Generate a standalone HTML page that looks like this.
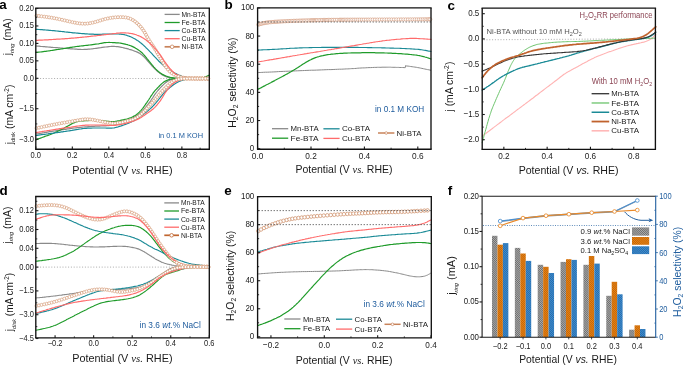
<!DOCTYPE html>
<html><head><meta charset="utf-8"><style>
html,body{margin:0;padding:0;background:#fff;}
svg{display:block;will-change:transform;filter:blur(0.25px);}
</style></head><body>
<svg width="685" height="366" viewBox="0 0 685 366">
<defs><pattern id="hg" patternUnits="userSpaceOnUse" width="1.5" height="1.5" patternTransform="rotate(-45)"><rect width="1.5" height="1.5" fill="#adadad"/><rect width="0.65" height="1.5" fill="#626262"/></pattern>
<pattern id="ho" patternUnits="userSpaceOnUse" width="1.5" height="1.5" patternTransform="rotate(-45)"><rect width="1.5" height="1.5" fill="#e98518"/><rect width="0.6" height="1.5" fill="#b85c00"/></pattern>
<pattern id="hb" patternUnits="userSpaceOnUse" width="1.5" height="1.5" patternTransform="rotate(-45)"><rect width="1.5" height="1.5" fill="#3f8fd2"/><rect width="0.6" height="1.5" fill="#22629f"/></pattern></defs>
<rect width="685" height="366" fill="#fff"/>
<text x="-0.7" y="9.4" font-size="13.4" text-anchor="start" fill="#000" font-family='"Liberation Sans", sans-serif' font-weight="bold">a</text>
<line x1="37.3" y1="78.5" x2="209.3" y2="78.5" stroke="#aaa" stroke-width="1" stroke-dasharray="1 1.8"/>
<path d="M36.0,46.0 37.4,46.1 39.0,46.2 40.6,46.4 42.0,46.5 43.4,46.6 44.7,46.7 45.8,46.8 46.9,46.9 48.0,47.0 49.1,47.1 50.2,47.2 51.3,47.3 52.4,47.4 53.6,47.5 54.8,47.5 56.0,47.6 57.2,47.7 58.3,47.8 59.4,47.9 60.4,48.0 61.5,48.1 62.6,48.2 63.7,48.3 64.8,48.4 65.9,48.5 67.0,48.5 68.2,48.6 69.4,48.7 70.8,48.8 72.3,48.9 73.8,49.0 75.2,49.1 76.6,49.2 77.9,49.3 79.1,49.4 80.4,49.4 81.7,49.5 83.0,49.5 84.3,49.4 85.6,49.4 87.0,49.3 88.3,49.2 89.6,49.1 90.8,49.0 92.1,48.8 93.3,48.7 94.6,48.5 96.0,48.3 97.5,48.1 99.0,47.9 100.7,47.7 102.4,47.4 104.1,47.2 105.7,47.0 107.3,46.8 108.8,46.6 110.2,46.5 111.6,46.4 112.8,46.4 114.1,46.4 115.3,46.5 116.6,46.6 117.8,46.7 119.1,46.9 120.3,47.1 121.4,47.3 122.6,47.5 123.7,47.8 124.8,48.1 125.9,48.3 127.0,48.6 128.1,48.9 129.2,49.3 130.3,49.6 131.4,49.9 132.5,50.3 133.6,50.7 134.6,51.1 135.7,51.5 136.7,51.9 137.8,52.4 138.8,52.9 139.9,53.5 140.9,54.2 141.9,54.9 142.8,55.7 143.7,56.5 144.5,57.3 145.2,58.1 145.9,58.9 146.6,59.7 147.3,60.5 148.0,61.3 148.7,62.1 149.4,62.9 150.1,63.6 150.7,64.4 151.4,65.2 152.1,66.0 152.9,66.8 153.7,67.6 154.5,68.5 155.4,69.4 156.4,70.3 157.4,71.2 158.4,72.1 159.4,72.9 160.4,73.6 161.4,74.3 162.4,75.0 163.4,75.5 164.5,76.0 165.5,76.5 166.6,76.9 167.7,77.2 168.9,77.5 170.1,77.7 171.3,77.9 172.5,78.1 173.8,78.2 175.1,78.3 176.5,78.4 177.9,78.4 179.4,78.5 180.9,78.5 182.3,78.5 183.8,78.5 185.3,78.6 186.8,78.6 188.4,78.6 190.1,78.6 191.7,78.6 193.4,78.6 195.2,78.6 196.9,78.5 198.5,78.5 200.1,78.5 201.7,78.5 203.2,78.5 204.6,78.5 206.0,78.5 207.2,78.5 208.4,78.5 209.0,78.5" fill="none" stroke="#8a8a8a" stroke-width="1.2" stroke-linejoin="round" stroke-linecap="round" />
<path d="M36.0,134.0 37.1,133.8 38.6,133.6 40.2,133.3 41.6,133.1 42.9,132.8 44.2,132.6 45.3,132.4 46.4,132.3 47.5,132.1 48.6,131.9 49.6,131.7 50.7,131.6 51.9,131.4 53.1,131.2 54.4,131.0 55.7,130.8 56.9,130.6 58.1,130.4 59.2,130.2 60.3,130.1 61.3,129.9 62.4,129.7 63.4,129.6 64.5,129.4 65.5,129.3 66.6,129.1 67.6,128.9 68.7,128.8 70.0,128.6 71.3,128.4 72.8,128.2 74.4,128.0 76.0,127.8 77.6,127.6 79.2,127.5 80.7,127.3 82.2,127.1 83.7,127.0 85.2,126.9 86.8,126.8 88.4,126.6 90.0,126.5 91.5,126.4 92.9,126.3 94.2,126.3 95.4,126.2 96.5,126.2 97.6,126.1 98.7,126.1 99.8,126.1 100.9,126.0 102.0,126.0 103.1,125.9 104.4,125.9 105.7,125.8 107.1,125.7 108.6,125.6 110.1,125.4 111.5,125.3 112.8,125.1 114.1,124.9 115.3,124.7 116.6,124.4 117.8,124.1 119.0,123.7 120.2,123.4 121.4,123.0 122.6,122.6 123.7,122.1 124.9,121.7 126.1,121.2 127.2,120.7 128.4,120.2 129.5,119.7 130.5,119.2 131.6,118.7 132.6,118.2 133.5,117.7 134.5,117.2 135.5,116.6 136.4,116.1 137.4,115.5 138.3,114.8 139.3,114.1 140.1,113.4 140.9,112.7 141.7,111.9 142.4,111.1 143.2,110.3 143.9,109.5 144.6,108.6 145.3,107.7 146.0,106.8 146.7,105.9 147.5,105.0 148.2,104.0 148.9,103.1 149.6,102.2 150.3,101.3 151.0,100.3 151.7,99.2 152.5,98.2 153.2,97.0 153.9,95.9 154.7,94.7 155.5,93.6 156.3,92.5 157.1,91.5 157.9,90.5 158.8,89.5 159.6,88.6 160.4,87.7 161.2,86.8 162.0,86.0 162.9,85.2 163.7,84.4 164.6,83.6 165.5,82.8 166.3,82.2 167.3,81.5 168.2,81.0 169.2,80.5 170.2,80.0 171.3,79.7 172.4,79.4 173.6,79.2 174.8,79.0 176.1,78.9 177.4,78.8 178.8,78.8 180.2,78.7 181.6,78.7 183.0,78.7 184.4,78.6 185.9,78.6 187.5,78.6 189.1,78.6 190.8,78.6 192.5,78.6 194.2,78.6 195.9,78.6 197.6,78.6 199.3,78.6 200.9,78.6 202.4,78.6 203.9,78.6 205.3,78.6 206.6,78.6 207.8,78.6 209.0,78.6 209.0,78.6" fill="none" stroke="#8a8a8a" stroke-width="1.2" stroke-linejoin="round" stroke-linecap="round" />
<path d="M36.0,52.5 37.1,52.4 38.6,52.2 40.2,52.0 41.8,51.8 43.2,51.6 44.6,51.4 45.8,51.3 46.9,51.1 48.0,51.0 49.1,50.8 50.2,50.7 51.3,50.5 52.5,50.3 53.8,50.1 55.2,49.9 56.5,49.7 57.8,49.5 59.0,49.3 60.1,49.2 61.1,49.0 62.1,48.8 63.2,48.6 64.2,48.5 65.2,48.3 66.2,48.1 67.2,47.9 68.3,47.8 69.3,47.6 70.3,47.4 71.3,47.3 72.4,47.1 73.4,47.0 74.4,46.8 75.4,46.7 76.5,46.5 77.5,46.4 78.6,46.3 79.7,46.1 80.7,46.0 81.8,45.9 82.9,45.8 84.0,45.6 85.0,45.5 86.1,45.4 87.2,45.3 88.4,45.1 89.7,45.0 91.1,44.8 92.6,44.6 94.1,44.4 95.7,44.2 97.2,44.0 98.6,43.8 99.9,43.5 101.1,43.3 102.3,43.1 103.4,42.9 104.5,42.7 105.6,42.6 106.7,42.5 107.9,42.5 109.1,42.4 110.4,42.5 111.6,42.5 112.7,42.6 113.8,42.7 114.9,42.7 116.0,42.8 117.1,42.8 118.2,42.9 119.4,43.0 120.5,43.2 121.6,43.4 122.8,43.6 123.9,43.8 125.0,44.1 126.2,44.4 127.3,44.6 128.4,45.0 129.5,45.3 130.6,45.7 131.6,46.1 132.7,46.6 133.7,47.1 134.7,47.6 135.6,48.2 136.6,48.8 137.6,49.5 138.7,50.1 139.7,50.9 140.7,51.7 141.7,52.5 142.6,53.4 143.4,54.3 144.2,55.1 144.9,56.0 145.6,56.8 146.3,57.7 147.0,58.6 147.7,59.4 148.4,60.3 149.0,61.1 149.7,62.0 150.4,62.8 151.1,63.7 151.8,64.5 152.5,65.4 153.2,66.2 153.9,67.1 154.7,67.9 155.5,68.8 156.4,69.7 157.4,70.6 158.4,71.5 159.4,72.3 160.4,73.0 161.5,73.7 162.5,74.4 163.5,74.9 164.5,75.4 165.6,75.9 166.6,76.2 167.7,76.6 168.7,76.9 169.8,77.2 170.8,77.5 172.0,77.7 173.1,77.9 174.3,78.1 175.6,78.2 177.0,78.3 178.5,78.4 179.9,78.4 181.3,78.5 182.6,78.5 183.8,78.5 184.9,78.5 186.0,78.6 187.2,78.6 188.3,78.6 189.5,78.6 190.9,78.6 192.2,78.6 193.7,78.6 195.0,78.6 196.3,78.5 197.6,78.5 198.8,78.4 199.9,78.3 201.0,78.1 202.1,77.9 203.2,77.6 204.2,77.3 205.2,76.9 206.3,76.5 207.3,76.0 208.2,75.6 209.0,75.2 209.0,75.2" fill="none" stroke="#1f9b2a" stroke-width="1.2" stroke-linejoin="round" stroke-linecap="round" />
<path d="M36.0,139.8 37.2,139.4 38.3,138.9 39.4,138.5 40.5,138.1 41.6,137.7 42.7,137.3 43.8,136.9 44.9,136.4 46.1,136.0 47.3,135.6 48.6,135.1 49.8,134.7 51.1,134.2 52.3,133.7 53.5,133.3 54.6,132.8 55.6,132.3 56.7,131.8 57.7,131.3 58.8,130.8 59.8,130.3 60.8,129.8 61.8,129.3 62.9,128.7 63.9,128.2 64.9,127.6 66.0,127.0 67.1,126.4 68.3,125.7 69.5,125.1 70.6,124.5 71.7,123.9 72.8,123.3 73.9,122.9 75.0,122.4 76.1,122.0 77.2,121.7 78.3,121.4 79.5,121.2 80.8,121.0 82.1,120.9 83.5,120.8 85.0,120.7 86.6,120.6 88.2,120.6 89.7,120.5 91.3,120.5 92.7,120.5 94.1,120.5 95.4,120.5 96.7,120.6 97.9,120.6 99.1,120.6 100.4,120.7 101.8,120.8 103.1,120.9 104.5,121.0 105.9,121.1 107.3,121.3 108.7,121.4 110.0,121.5 111.3,121.5 112.6,121.5 113.9,121.5 115.2,121.4 116.7,121.2 118.2,120.9 119.8,120.6 121.5,120.2 123.3,119.8 125.0,119.4 126.7,119.0 128.3,118.5 129.7,118.0 131.1,117.5 132.4,117.0 133.5,116.4 134.6,115.8 135.6,115.2 136.6,114.5 137.6,113.7 138.5,112.9 139.4,112.1 140.2,111.2 141.1,110.3 141.9,109.3 142.8,108.3 143.6,107.2 144.4,106.0 145.2,104.9 146.0,103.7 146.8,102.6 147.5,101.5 148.2,100.5 148.9,99.5 149.5,98.5 150.2,97.5 150.8,96.4 151.5,95.4 152.3,94.3 153.0,93.2 153.8,92.1 154.6,91.1 155.4,90.2 156.2,89.3 157.0,88.5 157.8,87.6 158.6,86.8 159.4,86.0 160.2,85.2 161.0,84.4 161.8,83.6 162.7,82.9 163.5,82.3 164.5,81.6 165.4,81.1 166.4,80.6 167.5,80.1 168.5,79.7 169.6,79.4 170.8,79.2 172.1,79.0 173.4,78.9 174.8,78.8 176.2,78.8 177.7,78.8 179.2,78.7 180.9,78.7 182.6,78.7 184.5,78.7 186.4,78.7 188.4,78.7 190.4,78.6 192.4,78.6 194.4,78.6 196.4,78.6 198.4,78.6 200.3,78.6 202.0,78.6 203.7,78.6 205.3,78.6 206.7,78.6 208.0,78.6 209.0,78.6 209.0,78.6" fill="none" stroke="#1f9b2a" stroke-width="1.2" stroke-linejoin="round" stroke-linecap="round" />
<path d="M36.0,29.3 37.4,29.4 39.0,29.5 40.6,29.6 42.0,29.7 43.4,29.8 44.7,29.9 45.8,30.0 46.9,30.1 48.0,30.2 49.1,30.3 50.2,30.4 51.3,30.5 52.5,30.6 53.9,30.7 55.3,30.8 56.7,31.0 58.1,31.1 59.4,31.3 60.5,31.4 61.6,31.5 62.6,31.6 63.7,31.7 64.7,31.9 65.7,32.0 66.7,32.1 67.8,32.2 68.8,32.3 69.8,32.4 70.8,32.5 71.9,32.6 72.9,32.8 73.9,32.8 74.9,32.9 75.9,33.0 76.9,33.1 77.9,33.2 79.0,33.3 80.0,33.4 81.0,33.5 82.0,33.6 83.0,33.6 84.0,33.7 85.1,33.8 86.1,33.9 87.1,33.9 88.1,34.0 89.1,34.1 90.1,34.1 91.2,34.2 92.2,34.2 93.2,34.2 94.2,34.3 95.2,34.3 96.3,34.3 97.3,34.3 98.4,34.3 99.5,34.3 100.6,34.3 101.7,34.3 102.8,34.2 103.9,34.2 104.9,34.2 106.1,34.1 107.2,34.1 108.4,34.0 109.8,34.0 111.2,34.0 112.8,33.9 114.3,33.9 115.7,34.0 117.1,34.0 118.4,34.0 119.6,34.1 120.8,34.2 121.9,34.3 123.1,34.5 124.2,34.7 125.3,35.0 126.4,35.2 127.4,35.6 128.5,36.0 129.6,36.4 130.7,36.8 131.7,37.2 132.7,37.7 133.6,38.2 134.6,38.7 135.6,39.3 136.5,39.9 137.4,40.5 138.4,41.1 139.3,41.8 140.2,42.5 141.2,43.2 142.1,44.0 143.1,44.9 144.1,45.8 145.0,46.7 146.0,47.7 147.0,48.6 148.0,49.6 149.0,50.6 149.9,51.7 150.9,52.7 151.9,53.7 152.9,54.8 153.8,55.8 154.8,56.9 155.8,57.9 156.7,58.9 157.7,59.9 158.7,61.0 159.7,62.0 160.7,62.9 161.7,63.9 162.8,64.9 163.8,65.8 164.9,66.7 165.9,67.6 167.0,68.4 168.0,69.2 169.1,69.9 170.2,70.6 171.2,71.2 172.3,71.8 173.3,72.3 174.3,72.9 175.3,73.4 176.4,73.9 177.5,74.5 178.6,75.0 179.8,75.4 181.0,75.9 182.1,76.3 183.3,76.7 184.4,77.0 185.6,77.2 186.7,77.5 187.9,77.7 189.1,77.8 190.3,78.0 191.6,78.1 192.8,78.2 194.0,78.3 195.2,78.3 196.5,78.4 197.7,78.4 199.1,78.5 200.5,78.5 201.9,78.5 203.3,78.5 204.8,78.5 206.1,78.5 207.4,78.5 208.5,78.5 209.0,78.5" fill="none" stroke="#1a8a96" stroke-width="1.2" stroke-linejoin="round" stroke-linecap="round" />
<path d="M36.0,135.5 37.1,135.3 38.6,135.1 40.2,134.9 41.8,134.7 43.2,134.5 44.6,134.3 45.8,134.2 46.9,134.0 48.0,133.9 49.1,133.7 50.2,133.6 51.3,133.4 52.4,133.3 53.6,133.1 54.8,132.9 56.0,132.7 57.1,132.6 58.2,132.4 59.3,132.3 60.4,132.1 61.4,131.9 62.5,131.8 63.6,131.6 64.7,131.5 65.7,131.3 66.8,131.1 68.0,131.0 69.2,130.8 70.5,130.6 71.9,130.4 73.4,130.1 74.9,129.9 76.3,129.7 77.7,129.5 78.9,129.2 80.0,129.0 81.2,128.9 82.3,128.7 83.5,128.5 84.8,128.4 86.2,128.3 87.7,128.2 89.3,128.1 91.1,128.1 92.9,128.0 94.8,128.0 96.8,128.0 98.6,128.0 100.4,128.0 102.2,128.0 103.7,128.0 105.2,128.0 106.6,128.1 107.9,128.1 109.2,128.1 110.4,128.2 111.7,128.1 112.9,128.0 114.2,127.8 115.6,127.5 117.1,127.2 118.6,126.7 120.3,126.2 122.0,125.6 123.7,125.0 125.4,124.4 127.1,123.8 128.6,123.1 130.1,122.5 131.4,121.9 132.7,121.3 133.8,120.7 134.9,120.1 136.0,119.4 137.1,118.7 138.2,117.9 139.2,117.2 140.2,116.5 141.2,115.8 142.3,115.0 143.3,114.3 144.4,113.5 145.4,112.7 146.5,111.9 147.5,111.1 148.5,110.2 149.5,109.4 150.4,108.6 151.3,107.8 152.1,107.0 152.9,106.2 153.7,105.3 154.4,104.5 155.2,103.7 155.9,102.9 156.6,102.0 157.3,101.2 158.0,100.4 158.7,99.5 159.3,98.7 160.0,97.9 160.6,97.0 161.3,96.2 162.0,95.3 162.7,94.4 163.4,93.6 164.2,92.6 165.1,91.7 166.1,90.8 167.1,89.9 168.1,89.0 169.1,88.2 170.1,87.4 171.0,86.7 171.9,85.9 172.9,85.2 173.8,84.5 174.7,83.9 175.7,83.3 176.7,82.7 177.6,82.2 178.6,81.7 179.6,81.3 180.6,80.9 181.7,80.5 182.7,80.2 183.8,79.9 184.9,79.7 186.0,79.5 187.2,79.3 188.3,79.1 189.5,79.0 190.7,78.9 191.9,78.9 193.2,78.8 194.7,78.8 196.2,78.7 197.9,78.7 199.6,78.7 201.4,78.7 203.1,78.7 204.9,78.6 206.5,78.6 207.9,78.6 209.0,78.6 209.0,78.6" fill="none" stroke="#1a8a96" stroke-width="1.2" stroke-linejoin="round" stroke-linecap="round" />
<g fill="#fff" stroke="#d39872" stroke-width="0.65"><circle cx="36.5" cy="15.7" r="1.5"/><circle cx="38.98" cy="16" r="1.5"/><circle cx="41.5" cy="16.31" r="1.5"/><circle cx="44.27" cy="16.66" r="1.5"/><circle cx="46.69" cy="16.98" r="1.5"/><circle cx="49.18" cy="17.34" r="1.5"/><circle cx="51.7" cy="17.73" r="1.5"/><circle cx="54.23" cy="18.18" r="1.5"/><circle cx="56.79" cy="18.67" r="1.5"/><circle cx="59.4" cy="19.22" r="1.5"/><circle cx="62.05" cy="19.81" r="1.5"/><circle cx="64.69" cy="20.41" r="1.5"/><circle cx="67.28" cy="21.01" r="1.5"/><circle cx="69.74" cy="21.57" r="1.5"/><circle cx="72.44" cy="22.16" r="1.5"/><circle cx="74.83" cy="22.65" r="1.5"/><circle cx="77.34" cy="23.09" r="1.5"/><circle cx="79.81" cy="23.43" r="1.5"/><circle cx="82.36" cy="23.64" r="1.5"/><circle cx="85.06" cy="23.69" r="1.5"/><circle cx="87.6" cy="23.51" r="1.5"/><circle cx="90.16" cy="23.14" r="1.5"/><circle cx="92.68" cy="22.64" r="1.5"/><circle cx="95.21" cy="22.03" r="1.5"/><circle cx="97.73" cy="21.31" r="1.5"/><circle cx="100.26" cy="20.5" r="1.5"/><circle cx="102.78" cy="19.7" r="1.5"/><circle cx="105.31" cy="19.01" r="1.5"/><circle cx="107.86" cy="18.44" r="1.5"/><circle cx="110.48" cy="17.95" r="1.5"/><circle cx="112.88" cy="17.6" r="1.5"/><circle cx="115.48" cy="17.34" r="1.5"/><circle cx="118.03" cy="17.17" r="1.5"/><circle cx="120.65" cy="17.11" r="1.5"/><circle cx="123.11" cy="17.18" r="1.5"/><circle cx="125.65" cy="17.43" r="1.5"/><circle cx="128.19" cy="17.98" r="1.5"/><circle cx="130.58" cy="18.85" r="1.5"/><circle cx="132.97" cy="20.1" r="1.5"/><circle cx="135.06" cy="21.51" r="1.5"/><circle cx="137.01" cy="23.11" r="1.5"/><circle cx="138.88" cy="24.9" r="1.5"/><circle cx="140.61" cy="26.8" r="1.5"/><circle cx="142.17" cy="28.71" r="1.5"/><circle cx="143.59" cy="30.7" r="1.5"/><circle cx="144.88" cy="32.77" r="1.5"/><circle cx="146.09" cy="34.92" r="1.5"/><circle cx="147.31" cy="37.12" r="1.5"/><circle cx="148.6" cy="39.35" r="1.5"/><circle cx="150.01" cy="41.58" r="1.5"/><circle cx="151.35" cy="43.58" r="1.5"/><circle cx="152.72" cy="45.62" r="1.5"/><circle cx="154.11" cy="47.7" r="1.5"/><circle cx="155.5" cy="49.87" r="1.5"/><circle cx="156.89" cy="52.14" r="1.5"/><circle cx="158.1" cy="54.21" r="1.5"/><circle cx="159.31" cy="56.3" r="1.5"/><circle cx="160.66" cy="58.62" r="1.5"/><circle cx="161.95" cy="60.79" r="1.5"/><circle cx="163.36" cy="63.08" r="1.5"/><circle cx="164.74" cy="65.22" r="1.5"/><circle cx="166.23" cy="67.34" r="1.5"/><circle cx="167.97" cy="69.52" r="1.5"/><circle cx="169.84" cy="71.5" r="1.5"/><circle cx="171.81" cy="73.15" r="1.5"/><circle cx="173.92" cy="74.52" r="1.5"/><circle cx="176.18" cy="75.63" r="1.5"/><circle cx="178.48" cy="76.53" r="1.5"/><circle cx="181.01" cy="77.32" r="1.5"/><circle cx="183.57" cy="77.86" r="1.5"/><circle cx="186.13" cy="78.12" r="1.5"/><circle cx="188.82" cy="78.25" r="1.5"/><circle cx="191.47" cy="78.32" r="1.5"/><circle cx="194.44" cy="78.37" r="1.5"/><circle cx="196.93" cy="78.4" r="1.5"/><circle cx="199.46" cy="78.43" r="1.5"/><circle cx="201.96" cy="78.45" r="1.5"/><circle cx="204.93" cy="78.47" r="1.5"/><circle cx="207.43" cy="78.49" r="1.5"/></g>
<g fill="#fff" stroke="#d39872" stroke-width="0.65"><circle cx="36.5" cy="128.2" r="1.5"/><circle cx="38.98" cy="127.67" r="1.5"/><circle cx="41.5" cy="127.13" r="1.5"/><circle cx="44.27" cy="126.54" r="1.5"/><circle cx="46.69" cy="126.03" r="1.5"/><circle cx="49.18" cy="125.52" r="1.5"/><circle cx="51.69" cy="125.01" r="1.5"/><circle cx="54.22" cy="124.52" r="1.5"/><circle cx="56.76" cy="124.03" r="1.5"/><circle cx="59.34" cy="123.55" r="1.5"/><circle cx="61.96" cy="123.07" r="1.5"/><circle cx="64.59" cy="122.6" r="1.5"/><circle cx="67.17" cy="122.14" r="1.5"/><circle cx="69.65" cy="121.71" r="1.5"/><circle cx="72.43" cy="121.23" r="1.5"/><circle cx="74.96" cy="120.8" r="1.5"/><circle cx="77.58" cy="120.35" r="1.5"/><circle cx="80.22" cy="119.9" r="1.5"/><circle cx="82.6" cy="119.54" r="1.5"/><circle cx="85.17" cy="119.28" r="1.5"/><circle cx="87.67" cy="119.24" r="1.5"/><circle cx="90.12" cy="119.41" r="1.5"/><circle cx="92.64" cy="119.75" r="1.5"/><circle cx="95.03" cy="120.17" r="1.5"/><circle cx="97.59" cy="120.66" r="1.5"/><circle cx="100.11" cy="121.17" r="1.5"/><circle cx="102.64" cy="121.69" r="1.5"/><circle cx="105.15" cy="122.19" r="1.5"/><circle cx="107.74" cy="122.7" r="1.5"/><circle cx="110.15" cy="123.12" r="1.5"/><circle cx="112.62" cy="123.36" r="1.5"/><circle cx="115.11" cy="123.34" r="1.5"/><circle cx="117.72" cy="123.05" r="1.5"/><circle cx="120.16" cy="122.64" r="1.5"/><circle cx="122.73" cy="122.13" r="1.5"/><circle cx="125.34" cy="121.55" r="1.5"/><circle cx="127.83" cy="120.94" r="1.5"/><circle cx="130.45" cy="120.21" r="1.5"/><circle cx="132.75" cy="119.44" r="1.5"/><circle cx="135.27" cy="118.35" r="1.5"/><circle cx="137.63" cy="117.02" r="1.5"/><circle cx="139.73" cy="115.54" r="1.5"/><circle cx="141.75" cy="113.8" r="1.5"/><circle cx="143.61" cy="111.95" r="1.5"/><circle cx="145.25" cy="110.17" r="1.5"/><circle cx="146.87" cy="108.37" r="1.5"/><circle cx="148.7" cy="106.43" r="1.5"/><circle cx="150.49" cy="104.57" r="1.5"/><circle cx="152.27" cy="102.69" r="1.5"/><circle cx="153.99" cy="100.81" r="1.5"/><circle cx="155.61" cy="98.92" r="1.5"/><circle cx="157.16" cy="97" r="1.5"/><circle cx="158.75" cy="94.99" r="1.5"/><circle cx="160.46" cy="92.95" r="1.5"/><circle cx="162.27" cy="90.95" r="1.5"/><circle cx="164.21" cy="88.95" r="1.5"/><circle cx="166.05" cy="87.13" r="1.5"/><circle cx="168.01" cy="85.28" r="1.5"/><circle cx="170.01" cy="83.54" r="1.5"/><circle cx="171.94" cy="82.08" r="1.5"/><circle cx="174.02" cy="80.82" r="1.5"/><circle cx="176.46" cy="79.77" r="1.5"/><circle cx="178.92" cy="79.14" r="1.5"/><circle cx="181.46" cy="78.81" r="1.5"/><circle cx="184.19" cy="78.66" r="1.5"/><circle cx="186.97" cy="78.61" r="1.5"/><circle cx="189.87" cy="78.59" r="1.5"/><circle cx="192.68" cy="78.58" r="1.5"/><circle cx="195.12" cy="78.58" r="1.5"/><circle cx="197.62" cy="78.58" r="1.5"/><circle cx="200.14" cy="78.58" r="1.5"/><circle cx="202.61" cy="78.59" r="1.5"/><circle cx="205.5" cy="78.59" r="1.5"/><circle cx="208.19" cy="78.6" r="1.5"/></g>
<path d="M36.0,40.4 37.4,40.3 39.0,40.2 40.6,40.2 42.0,40.1 43.4,40.0 44.7,39.9 45.8,39.9 46.9,39.8 48.0,39.8 49.1,39.7 50.2,39.6 51.3,39.6 52.5,39.5 53.9,39.4 55.4,39.3 56.9,39.2 58.4,39.1 59.8,39.1 61.0,39.0 62.1,38.9 63.1,38.8 64.2,38.8 65.2,38.7 66.2,38.6 67.2,38.6 68.3,38.5 69.3,38.4 70.3,38.3 71.3,38.2 72.4,38.2 73.4,38.1 74.4,38.0 75.4,37.9 76.4,37.8 77.4,37.7 78.5,37.6 79.5,37.5 80.5,37.4 81.5,37.3 82.5,37.2 83.5,37.1 84.6,37.0 85.6,36.9 86.6,36.8 87.6,36.7 88.6,36.6 89.6,36.5 90.6,36.3 91.7,36.2 92.7,36.1 93.7,36.0 94.7,35.9 95.8,35.8 96.8,35.7 97.9,35.5 99.0,35.4 100.1,35.3 101.2,35.1 102.4,35.0 103.5,34.9 104.6,34.7 105.7,34.6 106.8,34.5 108.0,34.3 109.2,34.2 110.5,34.0 111.9,33.9 113.2,33.7 114.6,33.5 115.9,33.4 117.1,33.2 118.2,33.1 119.4,33.0 120.5,32.9 121.7,32.9 122.9,32.9 124.1,32.9 125.3,32.9 126.5,33.0 127.7,33.0 128.8,33.2 129.9,33.3 131.0,33.5 132.1,33.7 133.1,33.9 134.1,34.2 135.2,34.5 136.2,34.8 137.2,35.2 138.3,35.6 139.3,36.0 140.4,36.5 141.5,37.1 142.5,37.7 143.6,38.3 144.5,39.0 145.5,39.6 146.4,40.3 147.2,41.0 148.1,41.7 149.0,42.4 149.9,43.2 150.7,44.0 151.6,44.8 152.5,45.7 153.3,46.6 154.2,47.6 155.1,48.5 155.9,49.5 156.8,50.5 157.6,51.5 158.4,52.5 159.1,53.4 159.9,54.4 160.6,55.4 161.3,56.4 161.9,57.4 162.6,58.4 163.2,59.4 163.8,60.3 164.5,61.3 165.1,62.2 165.8,63.2 166.5,64.2 167.3,65.2 168.0,66.2 168.8,67.2 169.6,68.2 170.5,69.1 171.3,70.0 172.2,71.0 173.1,71.8 174.0,72.7 174.9,73.5 175.9,74.2 176.9,74.8 177.8,75.4 178.8,75.8 179.8,76.2 180.9,76.6 182.0,76.9 183.1,77.2 184.3,77.4 185.5,77.7 186.7,77.9 187.9,78.1 189.0,78.2 189.0,78.2" fill="none" stroke="#ff6b6b" stroke-width="1.2" stroke-linejoin="round" stroke-linecap="round" />
<path d="M36.0,132.6 37.1,132.4 38.6,132.2 40.2,131.9 41.6,131.7 42.9,131.4 44.2,131.2 45.3,131.0 46.4,130.9 47.5,130.7 48.6,130.5 49.6,130.3 50.7,130.2 51.8,130.0 53.0,129.8 54.2,129.6 55.4,129.4 56.6,129.2 57.7,129.1 58.8,128.9 59.8,128.7 60.9,128.6 62.0,128.4 63.1,128.2 64.1,128.1 65.2,127.9 66.3,127.8 67.4,127.6 68.5,127.4 69.8,127.3 71.2,127.1 72.7,126.8 74.2,126.6 75.6,126.4 77.0,126.2 78.3,126.0 79.5,125.8 80.6,125.7 81.7,125.5 82.9,125.4 84.1,125.3 85.5,125.2 86.9,125.1 88.5,125.1 90.2,125.0 92.0,125.0 93.9,125.0 95.8,125.0 97.7,125.0 99.6,125.0 101.3,125.1 103.0,125.1 104.5,125.1 105.9,125.2 107.2,125.3 108.5,125.4 109.8,125.5 111.1,125.5 112.3,125.5 113.6,125.5 114.9,125.4 116.3,125.2 117.8,125.0 119.4,124.7 121.1,124.3 122.8,124.0 124.6,123.6 126.3,123.2 127.9,122.7 129.4,122.3 130.8,121.9 132.1,121.5 133.3,121.1 134.5,120.7 135.7,120.2 136.8,119.7 137.9,119.1 139.0,118.6 140.1,118.0 141.1,117.4 142.1,116.7 143.1,116.1 144.1,115.4 145.1,114.7 146.1,114.0 147.2,113.2 148.3,112.5 149.4,111.7 150.6,110.9 151.7,110.1 152.8,109.3 153.7,108.4 154.6,107.6 155.5,106.7 156.2,105.9 156.9,105.1 157.6,104.2 158.3,103.4 159.0,102.5 159.6,101.7 160.3,100.8 160.9,99.9 161.5,99.0 162.1,98.0 162.8,96.9 163.4,95.7 164.1,94.6 164.8,93.4 165.5,92.3 166.2,91.3 166.9,90.3 167.6,89.4 168.3,88.5 169.1,87.6 169.8,86.8 170.6,85.9 171.3,85.1 172.2,84.4 173.0,83.6 173.9,83.0 174.9,82.3 175.9,81.7 176.9,81.2 178.0,80.7 179.0,80.3 180.1,80.0 181.2,79.7 182.3,79.5 183.5,79.3 184.6,79.1 185.8,79.0 186.9,78.9 188.1,78.9 189.0,78.8 189.0,78.8" fill="none" stroke="#ff6b6b" stroke-width="1.2" stroke-linejoin="round" stroke-linecap="round" />
<g fill="#fff" stroke="#d39872" stroke-width="0.65"><circle cx="178.48" cy="76.53" r="1.5"/><circle cx="181.01" cy="77.32" r="1.5"/><circle cx="183.57" cy="77.86" r="1.5"/><circle cx="186.13" cy="78.12" r="1.5"/><circle cx="188.82" cy="78.25" r="1.5"/><circle cx="191.47" cy="78.32" r="1.5"/><circle cx="194.44" cy="78.37" r="1.5"/><circle cx="196.93" cy="78.4" r="1.5"/><circle cx="199.46" cy="78.43" r="1.5"/><circle cx="201.96" cy="78.45" r="1.5"/><circle cx="204.93" cy="78.47" r="1.5"/><circle cx="207.43" cy="78.49" r="1.5"/></g>
<g fill="#fff" stroke="#d39872" stroke-width="0.65"><circle cx="178.92" cy="79.14" r="1.5"/><circle cx="181.46" cy="78.81" r="1.5"/><circle cx="184.19" cy="78.66" r="1.5"/><circle cx="186.97" cy="78.61" r="1.5"/><circle cx="189.87" cy="78.59" r="1.5"/><circle cx="192.68" cy="78.58" r="1.5"/><circle cx="195.12" cy="78.58" r="1.5"/><circle cx="197.62" cy="78.58" r="1.5"/><circle cx="200.14" cy="78.58" r="1.5"/><circle cx="202.61" cy="78.59" r="1.5"/><circle cx="205.5" cy="78.59" r="1.5"/><circle cx="208.19" cy="78.6" r="1.5"/></g>
<line x1="35.12" y1="8.1" x2="209.98" y2="8.1" stroke="#111" stroke-width="1.35" />
<line x1="35.12" y1="149.2" x2="209.98" y2="149.2" stroke="#111" stroke-width="1.35" />
<line x1="35.8" y1="8.1" x2="35.8" y2="149.2" stroke="#111" stroke-width="1.35" />
<line x1="209.3" y1="8.1" x2="209.3" y2="149.2" stroke="#111" stroke-width="1.35" />
<line x1="35.8" y1="149.2" x2="35.8" y2="146.6" stroke="#1a1a1a" stroke-width="1.1" />
<text transform="translate(35.8,157.9) scale(1,1.17)" font-size="7.5" text-anchor="middle" fill="#1a1a1a" font-family='"Liberation Sans", sans-serif' >0.0</text>
<line x1="72.32" y1="149.2" x2="72.32" y2="146.6" stroke="#1a1a1a" stroke-width="1.1" />
<text transform="translate(72.32,157.9) scale(1,1.17)" font-size="7.5" text-anchor="middle" fill="#1a1a1a" font-family='"Liberation Sans", sans-serif' >0.2</text>
<line x1="108.84" y1="149.2" x2="108.84" y2="146.6" stroke="#1a1a1a" stroke-width="1.1" />
<text transform="translate(108.84,157.9) scale(1,1.17)" font-size="7.5" text-anchor="middle" fill="#1a1a1a" font-family='"Liberation Sans", sans-serif' >0.4</text>
<line x1="145.36" y1="149.2" x2="145.36" y2="146.6" stroke="#1a1a1a" stroke-width="1.1" />
<text transform="translate(145.36,157.9) scale(1,1.17)" font-size="7.5" text-anchor="middle" fill="#1a1a1a" font-family='"Liberation Sans", sans-serif' >0.6</text>
<line x1="181.88" y1="149.2" x2="181.88" y2="146.6" stroke="#1a1a1a" stroke-width="1.1" />
<text transform="translate(181.88,157.9) scale(1,1.17)" font-size="7.5" text-anchor="middle" fill="#1a1a1a" font-family='"Liberation Sans", sans-serif' >0.8</text>
<line x1="54.06" y1="149.2" x2="54.06" y2="147.7" stroke="#1a1a1a" stroke-width="0.9" />
<line x1="90.58" y1="149.2" x2="90.58" y2="147.7" stroke="#1a1a1a" stroke-width="0.9" />
<line x1="127.1" y1="149.2" x2="127.1" y2="147.7" stroke="#1a1a1a" stroke-width="0.9" />
<line x1="163.62" y1="149.2" x2="163.62" y2="147.7" stroke="#1a1a1a" stroke-width="0.9" />
<line x1="200.14" y1="149.2" x2="200.14" y2="147.7" stroke="#1a1a1a" stroke-width="0.9" />
<line x1="35.8" y1="8.5" x2="38.4" y2="8.5" stroke="#1a1a1a" stroke-width="1.1" />
<text transform="translate(33.9,11) scale(1,1.17)" font-size="7.5" text-anchor="end" fill="#1a1a1a" font-family='"Liberation Sans", sans-serif' >0.20</text>
<line x1="35.8" y1="25.95" x2="38.4" y2="25.95" stroke="#1a1a1a" stroke-width="1.1" />
<text transform="translate(33.9,28.45) scale(1,1.17)" font-size="7.5" text-anchor="end" fill="#1a1a1a" font-family='"Liberation Sans", sans-serif' >0.15</text>
<line x1="35.8" y1="43.4" x2="38.4" y2="43.4" stroke="#1a1a1a" stroke-width="1.1" />
<text transform="translate(33.9,45.9) scale(1,1.17)" font-size="7.5" text-anchor="end" fill="#1a1a1a" font-family='"Liberation Sans", sans-serif' >0.10</text>
<line x1="35.8" y1="60.85" x2="38.4" y2="60.85" stroke="#1a1a1a" stroke-width="1.1" />
<text transform="translate(33.9,63.35) scale(1,1.17)" font-size="7.5" text-anchor="end" fill="#1a1a1a" font-family='"Liberation Sans", sans-serif' >0.05</text>
<line x1="35.8" y1="78.3" x2="38.4" y2="78.3" stroke="#1a1a1a" stroke-width="1.1" />
<text transform="translate(33.9,80.8) scale(1,1.17)" font-size="7.5" text-anchor="end" fill="#1a1a1a" font-family='"Liberation Sans", sans-serif' >0.0</text>
<line x1="35.8" y1="17.23" x2="37.3" y2="17.23" stroke="#1a1a1a" stroke-width="0.9" />
<line x1="35.8" y1="34.67" x2="37.3" y2="34.67" stroke="#1a1a1a" stroke-width="0.9" />
<line x1="35.8" y1="52.12" x2="37.3" y2="52.12" stroke="#1a1a1a" stroke-width="0.9" />
<line x1="35.8" y1="69.58" x2="37.3" y2="69.58" stroke="#1a1a1a" stroke-width="0.9" />
<line x1="35.8" y1="108.7" x2="38.4" y2="108.7" stroke="#1a1a1a" stroke-width="1.1" />
<text transform="translate(33.9,111.2) scale(1,1.17)" font-size="7.5" text-anchor="end" fill="#1a1a1a" font-family='"Liberation Sans", sans-serif' >−1.5</text>
<line x1="35.8" y1="139.11" x2="38.4" y2="139.11" stroke="#1a1a1a" stroke-width="1.1" />
<text transform="translate(33.9,141.61) scale(1,1.17)" font-size="7.5" text-anchor="end" fill="#1a1a1a" font-family='"Liberation Sans", sans-serif' >−3.0</text>
<line x1="35.8" y1="93.5" x2="37.3" y2="93.5" stroke="#1a1a1a" stroke-width="0.9" />
<line x1="35.8" y1="123.91" x2="37.3" y2="123.91" stroke="#1a1a1a" stroke-width="0.9" />
<text transform="translate(11.3,36.8) rotate(-90)" font-size="10.4" text-anchor="middle" fill="#1a1a1a" font-family='"Liberation Sans", sans-serif'>j<tspan font-size="5.6" font-style="italic" dy="2.2">ring</tspan><tspan dy="-2.2"> (mA)</tspan></text>
<text transform="translate(13.2,114.4) rotate(-90)" font-size="10.4" text-anchor="middle" fill="#1a1a1a" font-family='"Liberation Sans", sans-serif'>j<tspan font-size="5.6" dy="2.2">disk</tspan><tspan dy="-2.2"> (mA cm</tspan><tspan font-size="6.5" dy="-4">-2</tspan><tspan dy="4">)</tspan></text>
<text x="122.35" y="173.6" font-size="10.5" text-anchor="middle" fill="#1a1a1a" font-family='"Liberation Sans", sans-serif'  textLength="100.3" lengthAdjust="spacingAndGlyphs">Potential (V <tspan font-family='"Liberation Serif", serif' font-style="italic">vs.</tspan> RHE)</text>
<line x1="164.6" y1="14.4" x2="179.7" y2="14.4" stroke="#8a8a8a" stroke-width="1.3" />
<text transform="translate(181.5,16.8) scale(1,1.1)" font-size="6.5" text-anchor="start" fill="#1a1a1a" font-family='"Liberation Sans", sans-serif'  textLength="24" lengthAdjust="spacingAndGlyphs">Mn-BTA</text>
<line x1="164.6" y1="22.5" x2="179.7" y2="22.5" stroke="#1f9b2a" stroke-width="1.3" />
<text transform="translate(181.5,24.9) scale(1,1.1)" font-size="6.5" text-anchor="start" fill="#1a1a1a" font-family='"Liberation Sans", sans-serif'  textLength="24" lengthAdjust="spacingAndGlyphs">Fe-BTA</text>
<line x1="164.6" y1="30.6" x2="179.7" y2="30.6" stroke="#1a8a96" stroke-width="1.3" />
<text transform="translate(181.5,33) scale(1,1.1)" font-size="6.5" text-anchor="start" fill="#1a1a1a" font-family='"Liberation Sans", sans-serif'  textLength="24" lengthAdjust="spacingAndGlyphs">Co-BTA</text>
<line x1="164.6" y1="38.7" x2="179.7" y2="38.7" stroke="#ff6b6b" stroke-width="1.3" />
<text transform="translate(181.5,41.1) scale(1,1.1)" font-size="6.5" text-anchor="start" fill="#1a1a1a" font-family='"Liberation Sans", sans-serif'  textLength="24" lengthAdjust="spacingAndGlyphs">Cu-BTA</text>
<line x1="164.6" y1="46.8" x2="179.7" y2="46.8" stroke="#c8835a" stroke-width="1.7" />
<text transform="translate(181.5,49.2) scale(1,1.1)" font-size="6.5" text-anchor="start" fill="#1a1a1a" font-family='"Liberation Sans", sans-serif'  textLength="21.3" lengthAdjust="spacingAndGlyphs">Ni-BTA</text>
<circle cx="172.1" cy="46.8" r="1.8" fill="#fff" stroke="#c8835a" stroke-width="0.8"/>
<text transform="translate(158.4,138.3) scale(1,1.1)" font-size="7.3" text-anchor="start" fill="#1c5a9c" font-family='"Liberation Sans", sans-serif'  textLength="44.6" lengthAdjust="spacingAndGlyphs">in 0.1 M KOH</text>
<text x="224.5" y="9.2" font-size="13.4" text-anchor="start" fill="#000" font-family='"Liberation Sans", sans-serif' font-weight="bold">b</text>
<path d="M257.6,72.6 258.8,72.5 260.2,72.5 261.8,72.4 263.6,72.3 265.4,72.2 267.3,72.2 269.4,72.1 271.6,72.0 273.8,71.9 276.1,71.8 278.5,71.6 280.9,71.5 283.3,71.4 285.7,71.3 288.2,71.2 290.6,71.1 293.0,71.0 295.4,70.9 297.7,70.8 300.0,70.7 302.3,70.6 304.6,70.5 306.9,70.4 309.3,70.3 311.7,70.2 314.1,70.2 316.6,70.1 319.0,70.0 321.4,69.9 323.8,69.8 326.2,69.7 328.6,69.6 330.9,69.6 333.1,69.5 335.3,69.4 337.4,69.3 339.4,69.2 341.3,69.2 343.1,69.1 344.8,69.0 346.3,68.9 347.8,68.9 349.2,68.8 350.5,68.7 351.8,68.6 353.2,68.6 354.6,68.5 356.2,68.4 357.8,68.2 359.4,68.1 361.0,68.0 362.7,67.9 364.2,67.9 365.8,67.8 367.3,67.7 369.0,67.6 370.7,67.6 372.5,67.5 374.3,67.4 375.9,67.4 377.4,67.3 378.7,67.3 379.9,67.3 381.0,67.3 382.0,67.2 383.0,67.2 384.0,67.2 385.0,67.2 386.1,67.2 387.2,67.2 388.3,67.2 389.4,67.2 390.5,67.2 391.7,67.3 392.9,67.3 394.0,67.3 395.2,67.3 396.3,67.4 397.5,67.4 398.7,67.4 399.9,67.5 401.3,67.5 402.7,67.5 404.2,67.6 405.2,67.6 405.2,67.6" fill="none" stroke="#8a8a8a" stroke-width="1" stroke-linejoin="round" stroke-linecap="round" />
<path d="M405.6,65.8 406.8,66.0 408.1,66.1 409.4,66.3 410.7,66.5 412.1,66.7 413.5,66.9 414.9,67.1 416.3,67.3 417.7,67.6 419.1,67.8 420.5,68.1 421.9,68.4 423.4,68.7 424.8,69.0 426.2,69.3 427.6,69.6 428.9,69.8 430.0,70.1 431.0,70.3 431.0,70.3" fill="none" stroke="#8a8a8a" stroke-width="1" stroke-linejoin="round" stroke-linecap="round" />
<line x1="405.2" y1="67.6" x2="405.6" y2="65.8" stroke="#8a8a8a" stroke-width="1" />
<path d="M257.6,89.5 258.7,88.9 260.1,88.2 261.3,87.6 262.4,87.0 263.5,86.4 264.6,85.9 265.6,85.3 266.6,84.8 267.7,84.3 268.7,83.7 269.7,83.2 270.7,82.7 271.7,82.1 272.7,81.6 273.7,81.1 274.7,80.6 275.6,80.1 276.6,79.5 277.6,79.0 278.6,78.5 279.5,78.0 280.5,77.5 281.4,77.0 282.4,76.5 283.4,75.9 284.4,75.4 285.4,74.8 286.5,74.2 287.7,73.6 288.8,72.9 290.0,72.2 291.3,71.5 292.5,70.7 293.8,70.0 295.1,69.2 296.3,68.4 297.5,67.7 298.7,66.9 299.8,66.2 301.0,65.5 302.0,64.8 303.1,64.1 304.2,63.4 305.3,62.8 306.3,62.1 307.4,61.5 308.5,60.9 309.6,60.3 310.8,59.7 311.9,59.1 313.1,58.6 314.3,58.1 315.5,57.6 316.7,57.2 318.0,56.8 319.2,56.5 320.4,56.1 321.6,55.8 322.9,55.6 324.1,55.3 325.3,55.1 326.5,54.9 327.8,54.7 329.0,54.5 330.2,54.4 331.5,54.2 332.7,54.1 333.9,54.0 335.1,53.8 336.3,53.7 337.5,53.6 338.8,53.5 340.0,53.4 341.3,53.3 342.6,53.3 343.9,53.2 345.3,53.1 346.8,53.1 348.3,53.0 349.9,53.0 351.6,52.9 353.3,52.9 355.1,52.9 356.9,52.8 358.7,52.8 360.5,52.8 362.2,52.7 363.9,52.7 365.6,52.7 367.1,52.7 368.5,52.7 369.9,52.7 371.2,52.7 372.4,52.7 373.5,52.7 374.6,52.7 375.7,52.8 376.7,52.8 377.8,52.8 378.8,52.8 379.8,52.8 380.9,52.9 381.9,52.9 382.9,52.9 383.9,52.9 385.0,53.0 386.0,53.0 387.0,53.0 388.1,53.1 389.1,53.1 390.2,53.2 391.2,53.2 392.3,53.3 393.4,53.3 394.5,53.4 395.7,53.4 396.9,53.5 398.2,53.6 399.5,53.7 401.0,53.7 402.4,53.8 404.0,54.0 405.6,54.1 407.2,54.2 408.8,54.3 410.4,54.5 412.0,54.7 413.6,54.8 415.1,55.0 416.6,55.2 418.1,55.5 419.5,55.7 420.9,56.0 422.3,56.3 423.7,56.6 425.0,57.0 426.2,57.3 427.4,57.7 428.6,58.1 429.7,58.5 430.7,58.9 431.0,59.0" fill="none" stroke="#1f9b2a" stroke-width="1.2" stroke-linejoin="round" stroke-linecap="round" />
<path d="M257.6,50.1 259.0,50.0 260.5,50.0 262.1,49.9 263.7,49.8 265.2,49.8 266.6,49.7 267.9,49.6 269.1,49.6 270.2,49.5 271.4,49.5 272.6,49.4 274.0,49.4 275.5,49.3 277.0,49.2 278.6,49.1 280.0,49.0 281.3,48.9 282.5,48.9 283.6,48.8 284.6,48.7 285.6,48.7 286.7,48.6 287.7,48.5 288.7,48.5 289.8,48.4 290.8,48.3 291.8,48.3 292.9,48.2 294.0,48.2 295.2,48.1 296.6,48.1 298.2,48.0 299.9,47.9 301.7,47.9 303.4,47.8 305.1,47.7 306.7,47.7 308.1,47.7 309.4,47.6 310.5,47.6 311.7,47.6 312.8,47.5 314.0,47.5 315.2,47.5 316.4,47.5 317.8,47.5 319.1,47.5 320.5,47.5 322.0,47.4 323.5,47.4 325.0,47.4 326.5,47.4 328.1,47.4 329.7,47.4 331.3,47.4 332.8,47.4 334.4,47.4 335.9,47.4 337.4,47.4 338.9,47.4 340.3,47.4 341.7,47.4 343.0,47.4 344.3,47.4 345.5,47.4 346.8,47.4 348.0,47.4 349.4,47.4 350.9,47.4 352.5,47.4 354.2,47.4 355.9,47.4 357.6,47.4 359.3,47.5 361.0,47.5 362.8,47.5 364.6,47.5 366.3,47.5 367.9,47.6 369.2,47.6 370.5,47.6 371.6,47.6 372.6,47.7 373.7,47.7 374.7,47.7 375.7,47.7 376.8,47.7 377.8,47.8 378.8,47.8 379.8,47.8 380.9,47.8 381.9,47.9 382.9,47.9 383.9,47.9 384.9,47.9 386.0,48.0 387.0,48.0 388.1,48.0 389.1,48.0 390.1,48.1 391.2,48.1 392.2,48.1 393.3,48.1 394.3,48.2 395.4,48.2 396.5,48.2 397.8,48.3 399.1,48.3 400.7,48.4 402.4,48.5 404.1,48.5 405.9,48.6 407.6,48.7 409.3,48.8 411.0,48.9 412.6,49.0 414.2,49.1 415.7,49.2 417.2,49.3 418.7,49.4 420.1,49.6 421.5,49.8 422.8,50.0 424.1,50.2 425.4,50.4 426.6,50.6 427.8,50.9 428.9,51.1 430.1,51.3 431.0,51.5 431.0,51.5" fill="none" stroke="#1a8a96" stroke-width="1.1" stroke-linejoin="round" stroke-linecap="round" />
<path d="M257.6,62.0 259.0,61.8 260.5,61.5 262.1,61.2 263.6,61.0 265.0,60.7 266.3,60.5 267.5,60.3 268.6,60.1 269.7,59.9 270.8,59.8 271.9,59.6 273.1,59.4 274.4,59.1 275.8,58.9 277.2,58.6 278.6,58.4 279.8,58.2 281.0,58.0 282.1,57.8 283.1,57.6 284.1,57.5 285.1,57.3 286.2,57.1 287.2,56.9 288.2,56.7 289.3,56.6 290.3,56.4 291.3,56.2 292.3,56.0 293.4,55.8 294.4,55.7 295.5,55.5 296.8,55.3 298.1,55.0 299.7,54.8 301.4,54.5 303.1,54.2 304.8,53.9 306.3,53.7 307.7,53.4 309.0,53.2 310.1,53.0 311.2,52.8 312.3,52.7 313.4,52.5 314.6,52.3 315.8,52.1 317.0,51.9 318.3,51.7 319.6,51.5 320.9,51.2 322.3,51.0 323.6,50.8 325.1,50.5 326.5,50.3 327.9,50.0 329.4,49.8 330.8,49.6 332.2,49.3 333.7,49.1 335.1,48.8 336.5,48.6 337.8,48.4 339.2,48.2 340.4,47.9 341.7,47.7 342.9,47.5 344.1,47.3 345.2,47.1 346.4,46.9 347.5,46.7 348.5,46.5 349.6,46.3 350.8,46.1 352.1,45.9 353.6,45.7 355.2,45.4 356.9,45.1 358.6,44.8 360.2,44.5 361.7,44.3 363.0,44.0 364.1,43.8 365.2,43.7 366.2,43.5 367.2,43.3 368.2,43.2 369.3,43.0 370.3,42.8 371.3,42.6 372.3,42.5 373.3,42.3 374.3,42.1 375.3,42.0 376.3,41.8 377.3,41.7 378.3,41.5 379.4,41.4 380.4,41.2 381.4,41.1 382.4,40.9 383.4,40.8 384.4,40.7 385.5,40.5 386.5,40.4 387.6,40.3 388.7,40.2 389.7,40.1 390.8,40.0 391.9,39.8 393.0,39.7 394.1,39.6 395.1,39.5 396.3,39.4 397.5,39.3 398.9,39.2 400.3,39.1 401.9,38.9 403.5,38.8 405.0,38.7 406.4,38.6 407.7,38.6 408.9,38.5 410.0,38.4 411.1,38.4 412.3,38.4 413.5,38.4 414.7,38.4 416.1,38.4 417.5,38.5 419.1,38.6 420.7,38.7 422.4,38.8 424.0,38.9 425.7,39.0 427.3,39.1 428.7,39.2 430.1,39.3 431.0,39.4 431.0,39.4" fill="none" stroke="#ff6b6b" stroke-width="1.1" stroke-linejoin="round" stroke-linecap="round" />
<g fill="#fff" stroke="#d09272" stroke-width="0.6"><circle cx="258.3" cy="24.6" r="1.6"/><circle cx="259.46" cy="24.25" r="1.6"/><circle cx="260.8" cy="23.85" r="1.6"/><circle cx="261.92" cy="23.56" r="1.6"/><circle cx="263.07" cy="23.3" r="1.6"/><circle cx="264.25" cy="23.06" r="1.6"/><circle cx="265.43" cy="22.84" r="1.6"/><circle cx="266.61" cy="22.65" r="1.6"/><circle cx="267.77" cy="22.48" r="1.6"/><circle cx="268.9" cy="22.34" r="1.6"/><circle cx="270.34" cy="22.18" r="1.6"/><circle cx="271.73" cy="22.06" r="1.6"/><circle cx="273.11" cy="21.95" r="1.6"/><circle cx="274.54" cy="21.84" r="1.6"/><circle cx="275.68" cy="21.77" r="1.6"/><circle cx="276.88" cy="21.69" r="1.6"/><circle cx="278.16" cy="21.62" r="1.6"/><circle cx="279.51" cy="21.54" r="1.6"/><circle cx="280.92" cy="21.46" r="1.6"/><circle cx="282.39" cy="21.38" r="1.6"/><circle cx="283.91" cy="21.3" r="1.6"/><circle cx="285.46" cy="21.23" r="1.6"/><circle cx="287.03" cy="21.15" r="1.6"/><circle cx="288.62" cy="21.08" r="1.6"/><circle cx="290.2" cy="21.01" r="1.6"/><circle cx="291.79" cy="20.94" r="1.6"/><circle cx="293.36" cy="20.87" r="1.6"/><circle cx="294.91" cy="20.81" r="1.6"/><circle cx="296.45" cy="20.75" r="1.6"/><circle cx="297.97" cy="20.7" r="1.6"/><circle cx="299.48" cy="20.65" r="1.6"/><circle cx="300.98" cy="20.6" r="1.6"/><circle cx="302.49" cy="20.55" r="1.6"/><circle cx="304" cy="20.5" r="1.6"/><circle cx="305.54" cy="20.46" r="1.6"/><circle cx="307.1" cy="20.42" r="1.6"/><circle cx="308.69" cy="20.38" r="1.6"/><circle cx="310.32" cy="20.33" r="1.6"/><circle cx="311.42" cy="20.31" r="1.6"/><circle cx="312.53" cy="20.28" r="1.6"/><circle cx="313.65" cy="20.25" r="1.6"/><circle cx="314.76" cy="20.23" r="1.6"/><circle cx="315.88" cy="20.2" r="1.6"/><circle cx="316.99" cy="20.17" r="1.6"/><circle cx="318.63" cy="20.13" r="1.6"/><circle cx="320.26" cy="20.09" r="1.6"/><circle cx="321.88" cy="20.05" r="1.6"/><circle cx="323.53" cy="20.02" r="1.6"/><circle cx="324.67" cy="19.99" r="1.6"/><circle cx="325.86" cy="19.96" r="1.6"/><circle cx="327.12" cy="19.94" r="1.6"/><circle cx="328.45" cy="19.91" r="1.6"/><circle cx="329.89" cy="19.89" r="1.6"/><circle cx="331.44" cy="19.87" r="1.6"/><circle cx="333.14" cy="19.84" r="1.6"/><circle cx="334.99" cy="19.82" r="1.6"/><circle cx="337.03" cy="19.79" r="1.6"/><circle cx="339.27" cy="19.77" r="1.6"/><circle cx="340.47" cy="19.76" r="1.6"/><circle cx="341.73" cy="19.75" r="1.6"/><circle cx="343.05" cy="19.73" r="1.6"/><circle cx="344.43" cy="19.72" r="1.6"/><circle cx="345.88" cy="19.71" r="1.6"/><circle cx="347.39" cy="19.7" r="1.6"/><circle cx="348.97" cy="19.69" r="1.6"/><circle cx="350.62" cy="19.68" r="1.6"/><circle cx="352.33" cy="19.67" r="1.6"/><circle cx="354.11" cy="19.65" r="1.6"/><circle cx="355.95" cy="19.64" r="1.6"/><circle cx="357.86" cy="19.63" r="1.6"/><circle cx="359.82" cy="19.62" r="1.6"/><circle cx="361.85" cy="19.61" r="1.6"/><circle cx="363.93" cy="19.6" r="1.6"/><circle cx="366.07" cy="19.58" r="1.6"/><circle cx="368.25" cy="19.57" r="1.6"/><circle cx="370.47" cy="19.56" r="1.6"/><circle cx="372.74" cy="19.55" r="1.6"/><circle cx="375.03" cy="19.54" r="1.6"/><circle cx="377.36" cy="19.53" r="1.6"/><circle cx="379.7" cy="19.52" r="1.6"/><circle cx="382.06" cy="19.51" r="1.6"/><circle cx="384.43" cy="19.49" r="1.6"/><circle cx="386.81" cy="19.48" r="1.6"/><circle cx="389.19" cy="19.47" r="1.6"/><circle cx="391.58" cy="19.46" r="1.6"/><circle cx="393.96" cy="19.45" r="1.6"/><circle cx="396.34" cy="19.44" r="1.6"/><circle cx="398.71" cy="19.43" r="1.6"/><circle cx="401.07" cy="19.42" r="1.6"/><circle cx="403.42" cy="19.41" r="1.6"/><circle cx="405.74" cy="19.4" r="1.6"/><circle cx="408.05" cy="19.39" r="1.6"/><circle cx="410.32" cy="19.38" r="1.6"/><circle cx="412.56" cy="19.37" r="1.6"/><circle cx="414.75" cy="19.36" r="1.6"/><circle cx="416.88" cy="19.36" r="1.6"/><circle cx="418.95" cy="19.35" r="1.6"/><circle cx="420.93" cy="19.34" r="1.6"/><circle cx="422.82" cy="19.33" r="1.6"/><circle cx="424.6" cy="19.32" r="1.6"/><circle cx="426.25" cy="19.32" r="1.6"/><circle cx="427.77" cy="19.31" r="1.6"/><circle cx="429.12" cy="19.31" r="1.6"/><circle cx="430.3" cy="19.3" r="1.6"/></g>
<line x1="258.6" y1="21.98" x2="431" y2="21.98" stroke="#555" stroke-width="0.9" stroke-dasharray="1.3 1.7"/>
<line x1="256.93" y1="7.9" x2="431.68" y2="7.9" stroke="#111" stroke-width="1.35" />
<line x1="256.93" y1="149.2" x2="431.68" y2="149.2" stroke="#111" stroke-width="1.35" />
<line x1="257.6" y1="7.9" x2="257.6" y2="149.2" stroke="#111" stroke-width="1.35" />
<line x1="431" y1="7.9" x2="431" y2="149.2" stroke="#111" stroke-width="1.35" />
<line x1="257.6" y1="149.2" x2="257.6" y2="146.6" stroke="#1a1a1a" stroke-width="1.1" />
<text transform="translate(257.6,158.7) scale(1,1.17)" font-size="8.3" text-anchor="middle" fill="#1a1a1a" font-family='"Liberation Sans", sans-serif' >0.0</text>
<line x1="311" y1="149.2" x2="311" y2="146.6" stroke="#1a1a1a" stroke-width="1.1" />
<text transform="translate(311,158.7) scale(1,1.17)" font-size="8.3" text-anchor="middle" fill="#1a1a1a" font-family='"Liberation Sans", sans-serif' >0.2</text>
<line x1="364.4" y1="149.2" x2="364.4" y2="146.6" stroke="#1a1a1a" stroke-width="1.1" />
<text transform="translate(364.4,158.7) scale(1,1.17)" font-size="8.3" text-anchor="middle" fill="#1a1a1a" font-family='"Liberation Sans", sans-serif' >0.4</text>
<line x1="417.8" y1="149.2" x2="417.8" y2="146.6" stroke="#1a1a1a" stroke-width="1.1" />
<text transform="translate(417.8,158.7) scale(1,1.17)" font-size="8.3" text-anchor="middle" fill="#1a1a1a" font-family='"Liberation Sans", sans-serif' >0.6</text>
<line x1="284.3" y1="149.2" x2="284.3" y2="147.7" stroke="#1a1a1a" stroke-width="0.9" />
<line x1="337.7" y1="149.2" x2="337.7" y2="147.7" stroke="#1a1a1a" stroke-width="0.9" />
<line x1="391.1" y1="149.2" x2="391.1" y2="147.7" stroke="#1a1a1a" stroke-width="0.9" />
<line x1="257.6" y1="148.7" x2="260.2" y2="148.7" stroke="#1a1a1a" stroke-width="1.1" />
<text transform="translate(254.3,151.2) scale(1,1.17)" font-size="8" text-anchor="end" fill="#1a1a1a" font-family='"Liberation Sans", sans-serif' >0</text>
<line x1="257.6" y1="120.54" x2="260.2" y2="120.54" stroke="#1a1a1a" stroke-width="1.1" />
<text transform="translate(254.3,123.04) scale(1,1.17)" font-size="8" text-anchor="end" fill="#1a1a1a" font-family='"Liberation Sans", sans-serif' >20</text>
<line x1="257.6" y1="92.38" x2="260.2" y2="92.38" stroke="#1a1a1a" stroke-width="1.1" />
<text transform="translate(254.3,94.88) scale(1,1.17)" font-size="8" text-anchor="end" fill="#1a1a1a" font-family='"Liberation Sans", sans-serif' >40</text>
<line x1="257.6" y1="64.22" x2="260.2" y2="64.22" stroke="#1a1a1a" stroke-width="1.1" />
<text transform="translate(254.3,66.72) scale(1,1.17)" font-size="8" text-anchor="end" fill="#1a1a1a" font-family='"Liberation Sans", sans-serif' >60</text>
<line x1="257.6" y1="36.06" x2="260.2" y2="36.06" stroke="#1a1a1a" stroke-width="1.1" />
<text transform="translate(254.3,38.56) scale(1,1.17)" font-size="8" text-anchor="end" fill="#1a1a1a" font-family='"Liberation Sans", sans-serif' >80</text>
<line x1="257.6" y1="7.9" x2="260.2" y2="7.9" stroke="#1a1a1a" stroke-width="1.1" />
<text transform="translate(254.3,10.4) scale(1,1.17)" font-size="8" text-anchor="end" fill="#1a1a1a" font-family='"Liberation Sans", sans-serif' >100</text>
<line x1="257.6" y1="134.62" x2="259.1" y2="134.62" stroke="#1a1a1a" stroke-width="0.9" />
<line x1="257.6" y1="106.46" x2="259.1" y2="106.46" stroke="#1a1a1a" stroke-width="0.9" />
<line x1="257.6" y1="78.3" x2="259.1" y2="78.3" stroke="#1a1a1a" stroke-width="0.9" />
<line x1="257.6" y1="50.14" x2="259.1" y2="50.14" stroke="#1a1a1a" stroke-width="0.9" />
<line x1="257.6" y1="21.98" x2="259.1" y2="21.98" stroke="#1a1a1a" stroke-width="0.9" />
<text transform="translate(236,82.6) rotate(-90)" font-size="10.4" text-anchor="middle" fill="#1a1a1a" font-family='"Liberation Sans", sans-serif'>H<tspan font-size="6.8" dy="2">2</tspan><tspan dy="-2">O</tspan><tspan font-size="6.8" dy="2">2</tspan><tspan dy="-2"> selectivity (%)</tspan></text>
<text x="343.95" y="173" font-size="10.5" text-anchor="middle" fill="#1a1a1a" font-family='"Liberation Sans", sans-serif'  textLength="97.1" lengthAdjust="spacingAndGlyphs">Potential (V <tspan font-family='"Liberation Serif", serif' font-style="italic">vs.</tspan> RHE)</text>
<line x1="272" y1="128.7" x2="288.2" y2="128.7" stroke="#8a8a8a" stroke-width="1.3" />
<text transform="translate(290.6,131.3) scale(1,1.1)" font-size="7.2" text-anchor="start" fill="#1a1a1a" font-family='"Liberation Sans", sans-serif'  textLength="28" lengthAdjust="spacingAndGlyphs">Mn-BTA</text>
<line x1="272" y1="138.2" x2="288.2" y2="138.2" stroke="#1f9b2a" stroke-width="1.3" />
<text transform="translate(290.6,140.8) scale(1,1.1)" font-size="7.2" text-anchor="start" fill="#1a1a1a" font-family='"Liberation Sans", sans-serif'  textLength="28" lengthAdjust="spacingAndGlyphs">Fe-BTA</text>
<line x1="323.4" y1="128.8" x2="339.6" y2="128.8" stroke="#1a8a96" stroke-width="1.3" />
<text transform="translate(342,131.4) scale(1,1.1)" font-size="7.2" text-anchor="start" fill="#1a1a1a" font-family='"Liberation Sans", sans-serif'  textLength="28" lengthAdjust="spacingAndGlyphs">Co-BTA</text>
<line x1="323.4" y1="138.4" x2="339.6" y2="138.4" stroke="#ff6b6b" stroke-width="1.3" />
<text transform="translate(342,141) scale(1,1.1)" font-size="7.2" text-anchor="start" fill="#1a1a1a" font-family='"Liberation Sans", sans-serif'  textLength="28" lengthAdjust="spacingAndGlyphs">Cu-BTA</text>
<line x1="378" y1="133" x2="394.4" y2="133" stroke="#c8835a" stroke-width="1.5" />
<circle cx="386.2" cy="133.0" r="1.3" fill="#fff" stroke="#c8835a" stroke-width="0.7"/>
<text transform="translate(396.6,135.6) scale(1,1.1)" font-size="7.2" text-anchor="start" fill="#1a1a1a" font-family='"Liberation Sans", sans-serif'  textLength="24.8" lengthAdjust="spacingAndGlyphs">Ni-BTA</text>
<text transform="translate(375,111.7) scale(1,1.1)" font-size="7.5" text-anchor="start" fill="#1c5a9c" font-family='"Liberation Sans", sans-serif'  textLength="49.2" lengthAdjust="spacingAndGlyphs">in 0.1 M KOH</text>
<text x="447.5" y="9.5" font-size="13.4" text-anchor="start" fill="#000" font-family='"Liberation Sans", sans-serif' font-weight="bold">c</text>
<line x1="483.7" y1="39.8" x2="655.4" y2="38.7" stroke="#aaa" stroke-width="1" stroke-dasharray="1 1.8"/>
<path d="M482.2,136.2 483.3,135.3 484.6,134.4 485.7,133.6 486.7,132.8 487.7,132.0 488.7,131.3 489.7,130.5 490.7,129.7 491.7,129.0 492.7,128.2 493.8,127.4 494.8,126.6 495.8,125.9 496.8,125.1 497.7,124.4 498.7,123.7 499.6,123.0 500.7,122.2 501.8,121.4 503.0,120.4 504.4,119.4 505.8,118.3 507.3,117.3 508.8,116.2 510.2,115.1 511.7,114.0 513.2,112.9 514.7,111.8 516.1,110.6 517.6,109.5 519.2,108.4 520.7,107.3 522.2,106.1 523.7,105.0 525.2,103.9 526.7,102.7 528.2,101.6 529.7,100.5 531.3,99.3 532.8,98.2 534.3,97.0 535.8,95.8 537.4,94.7 538.9,93.5 540.3,92.4 541.8,91.3 543.2,90.2 544.6,89.1 545.9,88.1 547.2,87.1 548.5,86.2 549.7,85.3 550.9,84.4 552.1,83.5 553.2,82.6 554.3,81.8 555.3,81.0 556.4,80.2 557.3,79.5 558.3,78.8 559.2,78.0 560.1,77.3 561.1,76.5 562.1,75.8 563.1,75.0 564.0,74.3 565.0,73.7 565.9,73.1 566.8,72.5 567.7,72.0 568.7,71.4 569.6,70.9 570.6,70.4 571.7,69.8 572.8,69.2 573.9,68.6 575.2,67.9 576.5,67.2 578.0,66.4 579.5,65.6 581.0,64.7 582.6,63.8 584.2,63.0 585.7,62.2 587.2,61.4 588.6,60.6 589.9,59.9 591.2,59.3 592.3,58.7 593.5,58.2 594.6,57.6 595.8,57.1 597.0,56.5 598.3,56.0 599.7,55.5 601.0,54.9 602.3,54.4 603.5,54.0 604.8,53.5 606.0,53.1 607.3,52.6 608.5,52.1 609.9,51.6 611.2,51.2 612.6,50.7 613.9,50.2 615.3,49.7 616.7,49.2 618.0,48.8 619.4,48.3 620.7,47.9 621.9,47.5 623.2,47.1 624.4,46.7 625.5,46.4 626.7,46.0 627.8,45.7 629.0,45.4 630.1,45.2 631.2,44.9 632.3,44.6 633.5,44.4 634.6,44.1 635.7,43.9 636.8,43.6 638.0,43.4 639.3,43.1 640.8,42.8 642.2,42.4 643.7,42.1 645.0,41.7 646.3,41.3 647.5,40.8 648.6,40.3 649.6,39.8 650.6,39.2 651.5,38.5 652.3,37.8 653.2,37.0 654.0,36.2 654.8,35.4 655.5,34.6 655.8,34.3" fill="none" stroke="#ffb3b3" stroke-width="1.1" stroke-linejoin="round" stroke-linecap="round" />
<path d="M482.2,142.7 482.6,141.2 483.0,139.9 483.3,138.6 483.7,137.2 484.0,135.8 484.4,134.4 484.8,132.8 485.3,131.3 485.7,129.7 486.2,128.0 486.6,126.4 487.1,124.7 487.5,123.1 488.0,121.5 488.4,120.0 488.8,118.5 489.3,117.1 489.7,115.8 490.1,114.5 490.5,113.4 490.9,112.2 491.2,111.1 491.6,110.1 492.0,109.0 492.5,107.8 493.0,106.5 493.6,105.1 494.3,103.5 495.0,101.9 495.7,100.2 496.4,98.5 497.2,96.8 497.9,95.1 498.7,93.4 499.4,91.7 500.2,90.0 501.0,88.3 501.7,86.7 502.5,85.1 503.2,83.6 503.8,82.2 504.4,80.8 504.9,79.6 505.4,78.3 505.9,77.2 506.3,76.0 506.8,74.8 507.2,73.6 507.6,72.5 508.1,71.3 508.6,70.2 509.1,69.1 509.6,68.0 510.1,66.8 510.6,65.7 511.2,64.5 511.8,63.4 512.4,62.3 513.0,61.3 513.6,60.4 514.3,59.4 515.0,58.5 515.8,57.6 516.7,56.7 517.6,55.8 518.6,54.9 519.6,54.0 520.7,53.1 521.7,52.3 522.7,51.5 523.7,50.8 524.7,50.1 525.8,49.4 526.8,48.8 527.8,48.2 528.8,47.6 529.8,47.1 530.9,46.6 531.9,46.2 532.9,45.8 534.0,45.4 535.1,45.1 536.2,44.7 537.3,44.4 538.5,44.2 539.7,44.0 540.9,43.8 542.1,43.6 543.4,43.4 544.7,43.2 546.1,43.1 547.4,43.0 548.9,42.8 550.3,42.7 551.7,42.5 553.2,42.4 554.6,42.3 556.0,42.2 557.4,42.1 558.8,42.0 560.2,42.0 561.5,41.9 562.9,41.8 564.3,41.8 565.6,41.7 566.9,41.7 568.2,41.6 569.4,41.6 570.5,41.6 571.6,41.5 572.7,41.5 573.8,41.5 574.9,41.5 576.1,41.5 577.4,41.5 578.8,41.4 580.2,41.4 581.8,41.3 583.5,41.2 585.1,41.2 586.7,41.1 588.2,41.0 589.5,40.9 590.7,40.9 591.8,40.8 592.9,40.8 593.9,40.7 595.0,40.7 596.1,40.6 597.2,40.5 598.3,40.5 599.5,40.4 600.6,40.4 601.7,40.3 602.9,40.3 604.0,40.2 605.2,40.1 606.4,40.1 607.6,40.0 608.8,40.0 610.0,39.9 611.2,39.8 612.5,39.8 613.7,39.7 615.0,39.7 616.3,39.6 617.6,39.5 618.9,39.5 620.2,39.4 621.6,39.3 623.0,39.3 624.4,39.2 625.8,39.2 627.3,39.1 628.9,39.0 630.5,39.0 632.2,38.9 634.0,38.9 635.7,38.8 637.5,38.7 639.3,38.7 641.0,38.6 642.8,38.5 644.5,38.5 646.1,38.4 647.7,38.4 649.2,38.3 650.7,38.3 652.1,38.2 653.4,38.2 654.6,38.1 655.8,38.1 655.8,38.1" fill="none" stroke="#6cc46c" stroke-width="1" stroke-linejoin="round" stroke-linecap="round" />
<path d="M482.2,90.1 483.2,89.4 484.3,88.8 485.3,88.1 486.3,87.5 487.2,86.8 488.2,86.2 489.1,85.6 490.0,85.0 491.0,84.3 491.9,83.6 492.9,82.9 493.9,82.2 494.9,81.4 495.9,80.7 496.9,79.9 498.0,79.2 499.0,78.5 500.0,77.9 501.0,77.2 502.0,76.6 503.0,76.0 504.0,75.5 505.0,74.9 506.0,74.4 507.0,73.8 508.0,73.3 509.0,72.8 510.0,72.3 511.0,71.8 512.1,71.3 513.1,70.9 514.1,70.4 515.2,70.0 516.2,69.5 517.2,69.1 518.3,68.7 519.4,68.3 520.5,67.9 521.7,67.6 522.8,67.2 524.0,67.0 525.2,66.7 526.4,66.4 527.6,66.1 528.8,65.8 530.1,65.5 531.4,65.2 532.8,64.8 534.2,64.5 535.6,64.1 537.0,63.8 538.5,63.4 539.9,63.1 541.3,62.7 542.7,62.4 544.1,62.0 545.4,61.7 546.8,61.4 548.1,61.0 549.5,60.7 550.9,60.3 552.2,60.0 553.6,59.7 555.0,59.3 556.3,59.0 557.7,58.6 559.1,58.3 560.5,57.9 561.9,57.6 563.3,57.2 564.6,56.9 566.0,56.5 567.3,56.2 568.6,55.8 569.8,55.4 571.1,55.1 572.3,54.7 573.5,54.3 574.6,54.0 575.8,53.6 576.9,53.2 578.1,52.9 579.2,52.6 580.3,52.2 581.5,51.9 582.7,51.6 583.9,51.2 585.2,50.9 586.4,50.5 587.7,50.2 588.9,49.9 590.2,49.6 591.5,49.2 592.8,48.9 594.2,48.5 595.7,48.1 597.2,47.8 598.8,47.4 600.3,47.0 601.9,46.6 603.4,46.2 605.0,45.8 606.5,45.4 608.0,45.0 609.5,44.6 611.0,44.2 612.5,43.8 614.0,43.4 615.5,43.1 617.0,42.7 618.5,42.4 620.0,42.0 621.6,41.7 623.1,41.5 624.7,41.2 626.2,41.0 627.8,40.7 629.3,40.5 630.8,40.3 632.2,40.1 633.6,39.9 634.9,39.7 636.1,39.5 637.3,39.4 638.5,39.2 639.6,39.1 640.8,38.9 642.0,38.7 643.3,38.5 644.5,38.2 645.6,37.9 646.8,37.6 647.9,37.3 649.0,36.8 650.0,36.4 651.0,35.8 652.0,35.3 652.9,34.7 653.8,34.0 654.7,33.4 655.5,32.7 655.8,32.5" fill="none" stroke="#1a8a96" stroke-width="1.3" stroke-linejoin="round" stroke-linecap="round" />
<path d="M482.2,71.2 483.2,70.7 484.2,70.3 485.2,69.9 486.2,69.5 487.3,69.1 488.3,68.6 489.3,68.2 490.3,67.8 491.4,67.3 492.4,66.8 493.4,66.3 494.4,65.8 495.4,65.3 496.4,64.8 497.4,64.3 498.4,63.8 499.4,63.3 500.4,62.9 501.4,62.4 502.4,61.9 503.4,61.5 504.4,61.1 505.4,60.7 506.4,60.3 507.4,59.9 508.4,59.6 509.4,59.2 510.4,58.9 511.4,58.6 512.4,58.3 513.4,58.0 514.4,57.8 515.5,57.5 516.5,57.2 517.6,57.0 518.7,56.8 519.9,56.6 521.0,56.4 522.2,56.2 523.4,56.1 524.5,55.9 525.7,55.8 526.8,55.7 528.0,55.5 529.2,55.4 530.4,55.3 531.5,55.1 532.7,55.0 533.8,54.9 534.9,54.8 536.1,54.6 537.2,54.5 538.5,54.4 539.8,54.2 541.2,54.1 542.7,54.0 544.2,53.8 545.6,53.7 547.0,53.6 548.2,53.5 549.4,53.5 550.6,53.4 551.7,53.3 552.9,53.2 554.0,53.1 555.2,53.1 556.4,53.0 557.5,52.9 558.7,52.8 559.8,52.8 561.0,52.7 562.2,52.6 563.5,52.5 564.9,52.4 566.4,52.3 568.0,52.2 569.6,52.1 571.2,52.0 572.7,51.9 574.2,51.8 575.6,51.7 577.0,51.6 578.3,51.4 579.6,51.3 580.8,51.1 582.1,51.0 583.3,50.7 584.6,50.5 585.8,50.3 587.1,50.0 588.3,49.7 589.5,49.4 590.8,49.1 592.1,48.8 593.5,48.4 595.0,48.1 596.5,47.7 598.0,47.3 599.6,46.9 601.1,46.5 602.7,46.1 604.2,45.7 605.7,45.3 607.2,44.9 608.7,44.5 610.2,44.1 611.7,43.8 613.3,43.4 614.8,43.0 616.3,42.7 617.8,42.3 619.3,42.0 620.8,41.7 622.3,41.4 623.9,41.1 625.4,40.9 627.0,40.6 628.5,40.4 630.0,40.2 631.5,40.0 632.9,39.8 634.2,39.6 635.5,39.4 636.7,39.3 637.9,39.1 639.0,38.9 640.2,38.8 641.4,38.6 642.6,38.4 643.9,38.1 645.1,37.9 646.2,37.5 647.3,37.1 648.4,36.7 649.5,36.2 650.5,35.6 651.5,35.0 652.5,34.4 653.4,33.8 654.3,33.1 655.1,32.4 655.8,31.8 655.8,31.8" fill="none" stroke="#333333" stroke-width="1.1" stroke-linejoin="round" stroke-linecap="round" />
<path d="M482.2,77.8 482.8,76.9 483.5,76.0 484.2,75.1 484.9,74.2 485.6,73.3 486.4,72.4 487.1,71.5 487.9,70.7 488.7,69.9 489.5,69.1 490.4,68.3 491.3,67.5 492.2,66.8 493.1,66.0 494.1,65.4 495.1,64.7 496.1,64.1 497.1,63.5 498.1,62.9 499.1,62.4 500.1,61.9 501.1,61.4 502.1,61.0 503.1,60.6 504.1,60.2 505.1,59.8 506.1,59.4 507.1,59.0 508.1,58.6 509.1,58.2 510.1,57.9 511.1,57.6 512.1,57.3 513.1,57.0 514.2,56.7 515.2,56.4 516.2,56.1 517.3,55.8 518.4,55.5 519.5,55.1 520.6,54.7 521.7,54.3 522.8,53.9 524.0,53.5 525.1,53.1 526.3,52.7 527.4,52.3 528.6,51.9 529.8,51.5 530.9,51.2 532.1,50.9 533.2,50.6 534.3,50.3 535.5,50.1 536.6,49.9 537.9,49.6 539.2,49.4 540.5,49.2 542.0,48.9 543.5,48.7 544.9,48.5 546.3,48.2 547.6,48.0 548.8,47.8 550.0,47.7 551.1,47.5 552.3,47.3 553.5,47.1 554.6,47.0 555.8,46.8 557.0,46.6 558.1,46.5 559.3,46.3 560.4,46.1 561.6,46.0 562.8,45.8 564.1,45.6 565.6,45.4 567.1,45.3 568.6,45.1 570.1,44.9 571.5,44.8 572.9,44.6 574.4,44.5 575.8,44.4 577.3,44.2 578.9,44.1 580.6,44.0 582.3,43.8 584.1,43.7 585.9,43.6 587.6,43.4 589.1,43.3 590.5,43.2 591.8,43.2 592.9,43.1 594.0,43.0 595.1,42.9 596.2,42.8 597.3,42.7 598.4,42.6 599.5,42.5 600.6,42.4 601.8,42.3 603.0,42.2 604.3,42.1 605.5,42.0 606.8,41.8 608.1,41.7 609.5,41.5 610.8,41.4 612.1,41.3 613.5,41.1 614.8,41.0 616.1,40.8 617.4,40.7 618.6,40.5 619.9,40.4 621.1,40.3 622.3,40.1 623.6,40.0 624.9,39.8 626.4,39.6 627.9,39.5 629.5,39.3 631.1,39.1 632.7,38.9 634.2,38.7 635.6,38.5 636.9,38.3 638.2,38.0 639.4,37.7 640.6,37.4 641.7,37.0 642.8,36.6 643.9,36.1 644.9,35.5 645.9,34.9 646.9,34.3 647.9,33.6 648.8,32.9 649.7,32.1 650.6,31.4 651.4,30.6 652.3,29.9 653.1,29.2 653.9,28.4 654.8,27.7 655.6,27.0 655.8,26.8" fill="none" stroke="#c0622d" stroke-width="1.7" stroke-linejoin="round" stroke-linecap="round" />
<line x1="481.52" y1="8.1" x2="656.07" y2="8.1" stroke="#111" stroke-width="1.35" />
<line x1="481.52" y1="149.4" x2="656.07" y2="149.4" stroke="#111" stroke-width="1.35" />
<line x1="482.2" y1="8.1" x2="482.2" y2="149.4" stroke="#111" stroke-width="1.35" />
<line x1="655.4" y1="8.1" x2="655.4" y2="149.4" stroke="#111" stroke-width="1.35" />
<line x1="503.85" y1="149.4" x2="503.85" y2="146.8" stroke="#1a1a1a" stroke-width="1.1" />
<text transform="translate(503.85,158.8) scale(1,1.17)" font-size="8.2" text-anchor="middle" fill="#1a1a1a" font-family='"Liberation Sans", sans-serif' >0.2</text>
<line x1="547.15" y1="149.4" x2="547.15" y2="146.8" stroke="#1a1a1a" stroke-width="1.1" />
<text transform="translate(547.15,158.8) scale(1,1.17)" font-size="8.2" text-anchor="middle" fill="#1a1a1a" font-family='"Liberation Sans", sans-serif' >0.4</text>
<line x1="590.45" y1="149.4" x2="590.45" y2="146.8" stroke="#1a1a1a" stroke-width="1.1" />
<text transform="translate(590.45,158.8) scale(1,1.17)" font-size="8.2" text-anchor="middle" fill="#1a1a1a" font-family='"Liberation Sans", sans-serif' >0.6</text>
<line x1="633.75" y1="149.4" x2="633.75" y2="146.8" stroke="#1a1a1a" stroke-width="1.1" />
<text transform="translate(633.75,158.8) scale(1,1.17)" font-size="8.2" text-anchor="middle" fill="#1a1a1a" font-family='"Liberation Sans", sans-serif' >0.8</text>
<line x1="525.5" y1="149.4" x2="525.5" y2="147.9" stroke="#1a1a1a" stroke-width="0.9" />
<line x1="568.8" y1="149.4" x2="568.8" y2="147.9" stroke="#1a1a1a" stroke-width="0.9" />
<line x1="612.1" y1="149.4" x2="612.1" y2="147.9" stroke="#1a1a1a" stroke-width="0.9" />
<line x1="482.2" y1="13.7" x2="484.8" y2="13.7" stroke="#1a1a1a" stroke-width="1.1" />
<text transform="translate(479.3,16.2) scale(1,1.17)" font-size="8" text-anchor="end" fill="#1a1a1a" font-family='"Liberation Sans", sans-serif' >0.5</text>
<line x1="482.2" y1="38.9" x2="484.8" y2="38.9" stroke="#1a1a1a" stroke-width="1.1" />
<text transform="translate(479.3,41.4) scale(1,1.17)" font-size="8" text-anchor="end" fill="#1a1a1a" font-family='"Liberation Sans", sans-serif' >0.0</text>
<line x1="482.2" y1="64.1" x2="484.8" y2="64.1" stroke="#1a1a1a" stroke-width="1.1" />
<text transform="translate(479.3,66.6) scale(1,1.17)" font-size="8" text-anchor="end" fill="#1a1a1a" font-family='"Liberation Sans", sans-serif' >−0.5</text>
<line x1="482.2" y1="89.3" x2="484.8" y2="89.3" stroke="#1a1a1a" stroke-width="1.1" />
<text transform="translate(479.3,91.8) scale(1,1.17)" font-size="8" text-anchor="end" fill="#1a1a1a" font-family='"Liberation Sans", sans-serif' >−1.0</text>
<line x1="482.2" y1="114.5" x2="484.8" y2="114.5" stroke="#1a1a1a" stroke-width="1.1" />
<text transform="translate(479.3,117) scale(1,1.17)" font-size="8" text-anchor="end" fill="#1a1a1a" font-family='"Liberation Sans", sans-serif' >−1.5</text>
<line x1="482.2" y1="139.7" x2="484.8" y2="139.7" stroke="#1a1a1a" stroke-width="1.1" />
<text transform="translate(479.3,142.2) scale(1,1.17)" font-size="8" text-anchor="end" fill="#1a1a1a" font-family='"Liberation Sans", sans-serif' >−2.0</text>
<line x1="482.2" y1="26.3" x2="483.7" y2="26.3" stroke="#1a1a1a" stroke-width="0.9" />
<line x1="482.2" y1="51.5" x2="483.7" y2="51.5" stroke="#1a1a1a" stroke-width="0.9" />
<line x1="482.2" y1="76.7" x2="483.7" y2="76.7" stroke="#1a1a1a" stroke-width="0.9" />
<line x1="482.2" y1="101.9" x2="483.7" y2="101.9" stroke="#1a1a1a" stroke-width="0.9" />
<line x1="482.2" y1="127.1" x2="483.7" y2="127.1" stroke="#1a1a1a" stroke-width="0.9" />
<text transform="translate(453.3,86.6) rotate(-90)" font-size="10.4" text-anchor="middle" fill="#1a1a1a" font-family='"Liberation Sans", sans-serif'>j (mA cm<tspan font-size="6.8" dy="-4">-2</tspan><tspan dy="4">)</tspan></text>
<text x="568.65" y="173.6" font-size="10.5" text-anchor="middle" fill="#1a1a1a" font-family='"Liberation Sans", sans-serif'  textLength="99.9" lengthAdjust="spacingAndGlyphs">Potential (V <tspan font-style="italic">vs.</tspan> RHE)</text>
<text transform="translate(579.5,17.9) scale(1,1.08)" font-size="7.6" text-anchor="start" fill="#8b4453" font-family='"Liberation Sans", sans-serif'  textLength="73" lengthAdjust="spacingAndGlyphs">H<tspan font-size="5.2" dy="2">2</tspan><tspan dy="-2">O</tspan><tspan font-size="5.2" dy="2">2</tspan><tspan dy="-2">RR performance</tspan></text>
<text transform="translate(486.6,33.5) scale(1,1.05)" font-size="7.3" text-anchor="start" fill="#555" font-family='"Liberation Sans", sans-serif'  textLength="95.2" lengthAdjust="spacingAndGlyphs">Ni-BTA without 10 mM H<tspan font-size="5.2" dy="2">2</tspan><tspan dy="-2">O</tspan><tspan font-size="5.2" dy="2">2</tspan></text>
<text transform="translate(591.8,84.2) scale(1,1.08)" font-size="7.6" text-anchor="start" fill="#8b4453" font-family='"Liberation Sans", sans-serif'  textLength="60.3" lengthAdjust="spacingAndGlyphs">With 10 mM H<tspan font-size="5.2" dy="2">2</tspan><tspan dy="-2">O</tspan><tspan font-size="5.2" dy="2">2</tspan></text>
<line x1="591.6" y1="93.7" x2="609.2" y2="93.7" stroke="#333333" stroke-width="1.3" />
<text transform="translate(611.2,96.3) scale(1,1.1)" font-size="7.3" text-anchor="start" fill="#1a1a1a" font-family='"Liberation Sans", sans-serif'  textLength="27.8" lengthAdjust="spacingAndGlyphs">Mn-BTA</text>
<line x1="591.6" y1="102.98" x2="609.2" y2="102.98" stroke="#6cc46c" stroke-width="1.3" />
<text transform="translate(611.2,105.58) scale(1,1.1)" font-size="7.3" text-anchor="start" fill="#1a1a1a" font-family='"Liberation Sans", sans-serif'  textLength="27.8" lengthAdjust="spacingAndGlyphs">Fe-BTA</text>
<line x1="591.6" y1="112.26" x2="609.2" y2="112.26" stroke="#1a8a96" stroke-width="1.5" />
<text transform="translate(611.2,114.86) scale(1,1.1)" font-size="7.3" text-anchor="start" fill="#1a1a1a" font-family='"Liberation Sans", sans-serif'  textLength="27.8" lengthAdjust="spacingAndGlyphs">Co-BTA</text>
<line x1="591.6" y1="121.54" x2="609.2" y2="121.54" stroke="#c0622d" stroke-width="1.8" />
<text transform="translate(611.2,124.14) scale(1,1.1)" font-size="7.3" text-anchor="start" fill="#1a1a1a" font-family='"Liberation Sans", sans-serif'  textLength="24.8" lengthAdjust="spacingAndGlyphs">Ni-BTA</text>
<line x1="591.6" y1="130.82" x2="609.2" y2="130.82" stroke="#ffb3b3" stroke-width="1.5" />
<text transform="translate(611.2,133.42) scale(1,1.1)" font-size="7.3" text-anchor="start" fill="#1a1a1a" font-family='"Liberation Sans", sans-serif'  textLength="27.8" lengthAdjust="spacingAndGlyphs">Cu-BTA</text>
<text x="-0.5" y="195.2" font-size="13.4" text-anchor="start" fill="#000" font-family='"Liberation Sans", sans-serif' font-weight="bold">d</text>
<line x1="37.3" y1="267.1" x2="209.3" y2="267.1" stroke="#aaa" stroke-width="1" stroke-dasharray="1 1.8"/>
<path d="M36.0,243.5 37.4,243.5 39.0,243.5 40.6,243.4 42.0,243.4 43.4,243.4 44.7,243.4 45.8,243.4 46.9,243.4 48.0,243.4 49.1,243.4 50.2,243.4 51.3,243.4 52.5,243.5 53.9,243.5 55.4,243.6 56.9,243.7 58.4,243.9 59.8,244.0 61.0,244.1 62.1,244.2 63.1,244.3 64.2,244.5 65.2,244.6 66.2,244.7 67.2,244.8 68.3,245.0 69.3,245.1 70.3,245.2 71.3,245.3 72.4,245.4 73.5,245.5 74.6,245.6 75.9,245.7 77.4,245.9 79.1,246.0 80.8,246.2 82.6,246.3 84.2,246.5 85.7,246.6 87.0,246.7 88.2,246.7 89.3,246.8 90.3,246.9 91.4,246.9 92.5,246.9 93.6,247.0 94.8,247.0 96.0,247.0 97.2,247.0 98.4,247.0 99.7,246.9 101.1,246.9 102.4,246.9 103.8,246.8 105.2,246.8 106.6,246.7 108.0,246.6 109.3,246.6 110.7,246.5 112.0,246.5 113.3,246.4 114.6,246.4 115.8,246.3 117.1,246.3 118.4,246.2 119.7,246.2 121.1,246.2 122.5,246.3 123.8,246.3 125.1,246.4 126.3,246.5 127.5,246.6 128.7,246.8 129.9,247.0 131.0,247.2 132.1,247.4 133.1,247.6 134.1,247.8 135.1,248.0 136.2,248.3 137.2,248.6 138.2,248.9 139.2,249.3 140.2,249.7 141.2,250.2 142.2,250.7 143.2,251.3 144.2,251.8 145.2,252.5 146.3,253.1 147.3,253.8 148.3,254.4 149.3,255.1 150.3,255.7 151.3,256.3 152.3,257.0 153.3,257.6 154.3,258.2 155.3,258.9 156.4,259.5 157.4,260.1 158.4,260.6 159.4,261.1 160.4,261.6 161.4,262.1 162.4,262.5 163.5,262.8 164.5,263.2 165.5,263.5 166.5,263.8 167.6,264.1 168.6,264.3 169.7,264.6 170.8,264.8 171.9,265.1 173.1,265.3 174.2,265.5 175.5,265.7 176.8,265.9 178.1,266.0 179.5,266.1 180.9,266.2 182.3,266.2 183.7,266.3 185.1,266.3 186.5,266.4 188.1,266.4 189.7,266.4 191.3,266.4 192.9,266.5 194.6,266.5 196.3,266.5 197.9,266.5 199.5,266.5 201.1,266.5 202.6,266.5 204.0,266.6 205.4,266.6 206.7,266.6 207.9,266.6 209.0,266.6 209.0,266.6" fill="none" stroke="#8a8a8a" stroke-width="1.15" stroke-linejoin="round" stroke-linecap="round" />
<path d="M36.0,298.0 37.4,297.8 39.0,297.7 40.6,297.5 42.0,297.4 43.4,297.2 44.7,297.1 45.8,297.0 46.9,296.8 48.0,296.7 49.1,296.6 50.2,296.5 51.3,296.3 52.5,296.2 53.9,296.0 55.3,295.9 56.7,295.7 58.1,295.5 59.4,295.3 60.5,295.2 61.6,295.1 62.6,294.9 63.7,294.8 64.7,294.6 65.7,294.5 66.7,294.4 67.8,294.2 68.8,294.1 69.8,293.9 70.8,293.8 71.9,293.7 72.9,293.5 73.9,293.4 74.9,293.2 75.9,293.1 77.0,292.9 78.0,292.8 79.1,292.6 80.1,292.4 81.2,292.3 82.2,292.1 83.3,291.9 84.3,291.8 85.4,291.6 86.4,291.4 87.5,291.3 88.7,291.1 90.0,290.9 91.4,290.7 93.0,290.5 94.7,290.4 96.4,290.2 98.1,290.0 99.7,289.9 101.3,289.8 102.9,289.7 104.4,289.7 105.8,289.6 107.2,289.6 108.6,289.6 109.9,289.5 111.2,289.5 112.4,289.5 113.7,289.6 114.9,289.6 116.2,289.6 117.5,289.6 118.8,289.5 120.2,289.4 121.6,289.3 123.0,289.2 124.3,289.1 125.6,289.0 126.7,288.9 127.8,288.8 129.0,288.7 130.1,288.5 131.2,288.4 132.3,288.3 133.5,288.1 134.6,288.0 135.8,287.8 137.0,287.6 138.3,287.3 139.7,287.0 141.0,286.7 142.3,286.3 143.5,285.8 144.6,285.4 145.7,284.9 146.8,284.3 147.8,283.7 148.8,283.1 149.8,282.5 150.8,281.8 151.8,281.2 152.8,280.5 153.8,279.8 154.8,279.1 155.8,278.4 156.9,277.6 157.9,276.9 158.9,276.2 159.9,275.5 160.9,274.7 161.9,274.0 163.0,273.3 164.0,272.6 165.0,271.9 166.0,271.2 167.1,270.5 168.1,269.9 169.1,269.3 170.1,268.8 171.2,268.4 172.3,267.9 173.4,267.6 174.6,267.3 175.8,267.1 177.1,267.0 178.4,266.9 179.7,266.8 181.0,266.8 182.4,266.8 183.7,266.7 185.2,266.7 186.7,266.7 188.3,266.7 189.9,266.7 191.6,266.8 193.3,266.8 195.1,266.8 196.8,266.8 198.5,266.8 200.1,266.9 201.7,266.9 203.2,266.9 204.6,266.9 206.0,267.0 207.2,267.0 208.4,267.0 209.0,267.0" fill="none" stroke="#8a8a8a" stroke-width="1.15" stroke-linejoin="round" stroke-linecap="round" />
<path d="M36.0,261.3 37.2,261.1 38.8,260.9 40.2,260.7 41.5,260.6 42.7,260.4 43.9,260.3 45.0,260.1 46.1,260.0 47.2,259.8 48.3,259.6 49.5,259.5 50.8,259.3 52.2,259.0 53.6,258.8 55.0,258.5 56.3,258.2 57.5,257.9 58.8,257.6 60.0,257.2 61.3,256.8 62.5,256.4 63.6,255.9 64.7,255.5 65.8,255.0 66.8,254.6 67.8,254.1 68.8,253.6 69.8,253.1 70.9,252.6 71.9,252.0 72.9,251.5 73.9,250.9 74.9,250.2 75.9,249.6 76.9,248.9 78.0,248.2 79.0,247.5 80.0,246.8 81.0,246.1 82.1,245.3 83.1,244.6 84.1,243.9 85.1,243.1 86.1,242.4 87.1,241.7 88.1,241.0 89.2,240.3 90.2,239.6 91.2,238.9 92.2,238.2 93.2,237.5 94.2,236.9 95.2,236.2 96.2,235.6 97.2,235.0 98.2,234.4 99.2,233.8 100.3,233.3 101.3,232.8 102.3,232.2 103.3,231.7 104.3,231.3 105.4,230.8 106.4,230.4 107.5,230.0 108.5,229.5 109.6,229.2 110.7,228.8 111.8,228.4 112.9,228.0 114.0,227.7 115.1,227.3 116.2,227.0 117.3,226.7 118.4,226.4 119.6,226.2 120.7,226.0 121.9,225.8 123.0,225.6 124.2,225.5 125.3,225.4 126.4,225.4 127.4,225.3 128.5,225.3 129.5,225.3 130.6,225.4 131.6,225.4 132.6,225.5 133.6,225.6 134.6,225.8 135.7,226.0 136.7,226.2 137.7,226.5 138.7,226.9 139.7,227.3 140.7,227.8 141.7,228.4 142.7,229.0 143.7,229.7 144.7,230.5 145.8,231.3 146.8,232.2 147.8,233.1 148.8,234.1 149.8,235.1 150.8,236.2 151.8,237.4 152.8,238.6 153.8,239.9 154.8,241.2 155.8,242.6 156.9,243.9 157.9,245.3 158.9,246.6 159.9,247.9 160.9,249.2 161.9,250.4 162.9,251.6 164.0,252.8 165.0,254.0 166.0,255.1 167.0,256.2 168.1,257.3 169.1,258.2 170.1,259.1 171.1,259.9 172.1,260.7 173.1,261.4 174.1,262.0 175.1,262.5 176.1,263.0 177.2,263.5 178.2,263.9 179.2,264.2 180.3,264.6 181.4,264.9 182.6,265.2 183.8,265.4 185.1,265.7 186.3,265.8 187.6,265.9 188.9,266.0 190.2,266.1 191.6,266.2 193.1,266.3 194.6,266.3 196.0,266.4 197.3,266.4 198.4,266.4 199.6,266.5 200.7,266.5 201.9,266.5 203.1,266.5 204.4,266.5 205.8,266.6 207.4,266.6 208.7,266.6 209.0,266.6" fill="none" stroke="#1f9b2a" stroke-width="1.15" stroke-linejoin="round" stroke-linecap="round" />
<path d="M36.0,330.3 37.1,330.0 38.6,329.7 40.2,329.4 41.6,329.1 42.9,328.8 44.2,328.5 45.3,328.3 46.4,328.0 47.5,327.7 48.5,327.5 49.6,327.2 50.6,326.9 51.7,326.5 52.7,326.2 53.7,325.8 54.7,325.5 55.7,325.1 56.6,324.7 57.6,324.2 58.6,323.8 59.6,323.3 60.6,322.8 61.6,322.3 62.6,321.8 63.7,321.2 64.7,320.7 65.7,320.2 66.7,319.6 67.8,319.1 68.8,318.5 69.8,318.0 70.8,317.4 71.9,316.9 72.9,316.4 73.9,315.9 74.9,315.3 76.0,314.8 77.0,314.3 78.1,313.7 79.2,313.2 80.3,312.6 81.4,312.1 82.4,311.5 83.5,311.0 84.6,310.4 85.7,309.9 86.7,309.4 87.8,308.8 88.8,308.3 89.9,307.8 90.9,307.3 92.1,306.7 93.3,306.2 94.6,305.6 95.9,305.0 97.1,304.5 98.3,304.0 99.5,303.5 100.7,303.1 101.9,302.8 103.1,302.5 104.4,302.2 105.7,301.9 107.0,301.6 108.5,301.4 110.0,301.2 111.6,301.0 113.2,300.8 114.8,300.6 116.3,300.4 117.8,300.3 119.1,300.1 120.5,299.9 121.7,299.8 122.9,299.6 124.2,299.4 125.5,299.2 126.8,299.0 128.0,298.8 129.3,298.5 130.4,298.3 131.5,298.0 132.6,297.7 133.6,297.4 134.6,297.0 135.7,296.7 136.7,296.3 137.7,295.9 138.7,295.4 139.7,294.9 140.7,294.3 141.7,293.7 142.7,293.1 143.7,292.4 144.7,291.7 145.8,290.9 146.8,290.1 147.8,289.3 148.8,288.5 149.8,287.7 150.8,286.8 151.9,285.9 152.9,285.0 154.0,284.0 155.0,283.1 156.1,282.1 157.1,281.2 158.1,280.3 159.0,279.4 160.0,278.6 160.9,277.8 161.8,277.1 162.8,276.4 163.8,275.7 164.8,275.1 165.9,274.5 167.0,274.0 168.1,273.6 169.2,273.2 170.3,272.9 171.3,272.6 172.4,272.3 173.4,272.0 174.5,271.7 175.6,271.3 176.7,271.0 177.9,270.6 179.1,270.2 180.3,269.7 181.5,269.3 182.8,268.9 184.1,268.6 185.4,268.3 186.8,268.1 188.1,267.9 189.5,267.8 190.7,267.7 192.0,267.6 193.3,267.6 194.5,267.5 195.8,267.5 197.1,267.4 198.5,267.4 199.8,267.4 201.0,267.4 202.3,267.3 203.6,267.3 204.8,267.3 206.1,267.3 207.5,267.2 209.0,267.2 209.0,267.2" fill="none" stroke="#1f9b2a" stroke-width="1.15" stroke-linejoin="round" stroke-linecap="round" />
<path d="M36.0,214.2 37.2,214.1 38.4,213.9 39.7,213.8 41.1,213.7 42.5,213.7 43.8,213.7 45.1,213.7 46.4,213.8 47.6,213.9 48.7,214.0 49.8,214.1 50.8,214.2 51.9,214.4 52.9,214.6 53.9,214.8 55.0,215.0 56.0,215.3 57.0,215.5 58.0,215.8 59.0,216.1 60.0,216.4 61.0,216.8 62.0,217.1 63.0,217.5 64.0,217.8 65.1,218.2 66.1,218.6 67.1,219.0 68.1,219.5 69.1,219.9 70.1,220.4 71.1,220.8 72.1,221.3 73.1,221.7 74.2,222.2 75.2,222.6 76.2,223.1 77.2,223.6 78.2,224.0 79.2,224.5 80.3,224.9 81.3,225.4 82.3,225.8 83.3,226.3 84.3,226.7 85.4,227.1 86.4,227.5 87.4,227.9 88.4,228.3 89.4,228.6 90.4,229.0 91.4,229.3 92.4,229.7 93.4,230.0 94.4,230.3 95.5,230.6 96.5,230.8 97.5,231.0 98.5,231.3 99.5,231.5 100.5,231.7 101.5,231.8 102.5,232.0 103.5,232.2 104.6,232.4 105.6,232.5 106.7,232.7 107.7,232.8 108.8,233.0 109.9,233.1 111.0,233.3 112.1,233.4 113.3,233.6 114.4,233.7 115.6,233.9 116.7,234.0 117.8,234.1 119.0,234.3 120.1,234.5 121.3,234.6 122.5,234.8 123.6,235.0 124.7,235.3 125.8,235.5 126.9,235.7 128.0,236.0 129.0,236.2 130.1,236.5 131.1,236.9 132.1,237.2 133.1,237.5 134.1,237.9 135.1,238.3 136.2,238.7 137.2,239.1 138.2,239.6 139.2,240.1 140.2,240.6 141.2,241.1 142.2,241.7 143.2,242.3 144.2,242.9 145.2,243.5 146.3,244.1 147.3,244.8 148.3,245.4 149.3,246.0 150.3,246.5 151.3,247.1 152.3,247.6 153.3,248.2 154.3,248.7 155.3,249.2 156.4,249.6 157.4,250.1 158.4,250.6 159.4,251.1 160.4,251.6 161.4,252.1 162.4,252.6 163.5,253.2 164.5,253.7 165.5,254.2 166.5,254.7 167.5,255.2 168.6,255.7 169.6,256.2 170.6,256.7 171.6,257.1 172.6,257.6 173.6,258.0 174.6,258.4 175.7,258.8 176.7,259.2 177.7,259.6 178.7,260.0 179.7,260.3 180.7,260.7 181.7,261.0 182.7,261.4 183.7,261.7 184.7,262.1 185.8,262.4 186.8,262.7 187.8,263.0 188.8,263.3 189.8,263.5 190.8,263.8 191.8,264.0 192.9,264.2 193.9,264.3 194.9,264.5 196.0,264.6 197.1,264.8 198.2,264.9 199.5,265.0 200.8,265.2 202.1,265.3 203.4,265.5 204.8,265.6 206.1,265.7 207.4,265.9 208.5,266.0 209.0,266.0" fill="none" stroke="#1a8a96" stroke-width="1.15" stroke-linejoin="round" stroke-linecap="round" />
<path d="M36.0,313.5 37.1,313.2 38.6,312.9 40.2,312.6 41.6,312.2 42.9,311.9 44.2,311.6 45.3,311.4 46.4,311.1 47.5,310.8 48.5,310.6 49.6,310.3 50.6,310.0 51.7,309.7 52.7,309.4 53.7,309.0 54.7,308.7 55.7,308.4 56.6,308.0 57.6,307.6 58.6,307.2 59.6,306.8 60.6,306.4 61.6,306.0 62.6,305.5 63.7,305.1 64.7,304.6 65.7,304.2 66.7,303.7 67.8,303.3 68.8,302.8 69.8,302.4 70.8,301.9 71.9,301.5 72.9,301.0 73.9,300.6 74.9,300.2 76.0,299.8 77.0,299.3 78.1,298.9 79.2,298.4 80.3,298.0 81.4,297.5 82.4,297.1 83.5,296.6 84.6,296.2 85.7,295.7 86.8,295.3 87.8,294.9 88.9,294.5 90.0,294.0 91.2,293.6 92.5,293.1 93.8,292.7 95.2,292.2 96.5,291.8 97.8,291.5 99.0,291.2 100.2,290.9 101.5,290.7 102.7,290.6 104.0,290.4 105.4,290.2 106.8,290.1 108.2,289.9 109.5,289.8 110.7,289.6 111.9,289.5 113.0,289.4 114.1,289.3 115.2,289.2 116.3,289.1 117.4,289.0 118.7,288.8 120.0,288.7 121.3,288.6 122.7,288.4 124.1,288.3 125.4,288.1 126.6,287.9 127.8,287.7 129.0,287.5 130.2,287.3 131.4,287.1 132.6,286.9 133.8,286.6 134.9,286.4 136.0,286.2 137.0,286.0 138.1,285.7 139.1,285.4 140.2,285.2 141.2,284.8 142.2,284.5 143.2,284.2 144.2,283.8 145.2,283.4 146.3,283.0 147.3,282.6 148.3,282.1 149.3,281.6 150.3,281.1 151.3,280.6 152.3,280.0 153.3,279.4 154.3,278.8 155.3,278.1 156.4,277.5 157.4,276.9 158.4,276.3 159.4,275.7 160.4,275.2 161.4,274.7 162.4,274.2 163.5,273.7 164.5,273.3 165.5,272.9 166.5,272.5 167.5,272.1 168.6,271.8 169.6,271.5 170.6,271.1 171.6,270.9 172.6,270.6 173.6,270.4 174.6,270.2 175.7,270.0 176.7,269.8 177.7,269.6 178.7,269.4 179.8,269.2 180.9,269.0 182.1,268.8 183.3,268.6 184.6,268.4 185.8,268.1 187.1,268.0 188.4,267.8 189.7,267.7 191.1,267.5 192.5,267.4 193.9,267.4 195.3,267.3 196.6,267.3 197.8,267.3 198.9,267.2 200.0,267.2 201.1,267.2 202.3,267.2 203.5,267.2 204.8,267.2 206.2,267.1 207.8,267.1 209.0,267.1 209.0,267.1" fill="none" stroke="#1a8a96" stroke-width="1.15" stroke-linejoin="round" stroke-linecap="round" />
<g fill="#fff" stroke="#d39872" stroke-width="0.65"><circle cx="36.5" cy="206.1" r="1.5"/><circle cx="39.22" cy="205.77" r="1.5"/><circle cx="41.74" cy="205.53" r="1.5"/><circle cx="44.22" cy="205.33" r="1.5"/><circle cx="46.88" cy="205.16" r="1.5"/><circle cx="49.41" cy="205.05" r="1.5"/><circle cx="51.86" cy="205.04" r="1.5"/><circle cx="54.44" cy="205.17" r="1.5"/><circle cx="56.98" cy="205.46" r="1.5"/><circle cx="59.5" cy="205.89" r="1.5"/><circle cx="62.03" cy="206.48" r="1.5"/><circle cx="64.55" cy="207.26" r="1.5"/><circle cx="66.82" cy="208.15" r="1.5"/><circle cx="69.09" cy="209.18" r="1.5"/><circle cx="71.36" cy="210.3" r="1.5"/><circle cx="73.64" cy="211.42" r="1.5"/><circle cx="75.93" cy="212.54" r="1.5"/><circle cx="78.22" cy="213.66" r="1.5"/><circle cx="80.52" cy="214.77" r="1.5"/><circle cx="82.82" cy="215.82" r="1.5"/><circle cx="85.12" cy="216.77" r="1.5"/><circle cx="87.44" cy="217.64" r="1.5"/><circle cx="89.81" cy="218.43" r="1.5"/><circle cx="92.44" cy="219.12" r="1.5"/><circle cx="94.89" cy="219.52" r="1.5"/><circle cx="97.62" cy="219.69" r="1.5"/><circle cx="100.03" cy="219.55" r="1.5"/><circle cx="102.42" cy="219.11" r="1.5"/><circle cx="104.81" cy="218.39" r="1.5"/><circle cx="107.21" cy="217.44" r="1.5"/><circle cx="109.63" cy="216.39" r="1.5"/><circle cx="112.08" cy="215.32" r="1.5"/><circle cx="114.52" cy="214.32" r="1.5"/><circle cx="116.84" cy="213.41" r="1.5"/><circle cx="119.3" cy="212.52" r="1.5"/><circle cx="121.83" cy="211.76" r="1.5"/><circle cx="124.22" cy="211.34" r="1.5"/><circle cx="126.9" cy="211.33" r="1.5"/><circle cx="129.46" cy="211.81" r="1.5"/><circle cx="132.02" cy="212.65" r="1.5"/><circle cx="134.35" cy="213.66" r="1.5"/><circle cx="136.5" cy="214.82" r="1.5"/><circle cx="138.62" cy="216.22" r="1.5"/><circle cx="140.69" cy="217.92" r="1.5"/><circle cx="142.47" cy="219.66" r="1.5"/><circle cx="144.24" cy="221.63" r="1.5"/><circle cx="146.01" cy="223.78" r="1.5"/><circle cx="147.52" cy="225.72" r="1.5"/><circle cx="149.04" cy="227.74" r="1.5"/><circle cx="150.55" cy="229.83" r="1.5"/><circle cx="152.07" cy="231.99" r="1.5"/><circle cx="153.58" cy="234.25" r="1.5"/><circle cx="155.09" cy="236.56" r="1.5"/><circle cx="156.61" cy="238.89" r="1.5"/><circle cx="158.12" cy="241.2" r="1.5"/><circle cx="159.64" cy="243.45" r="1.5"/><circle cx="161.17" cy="245.64" r="1.5"/><circle cx="162.69" cy="247.78" r="1.5"/><circle cx="164.22" cy="249.88" r="1.5"/><circle cx="165.76" cy="251.91" r="1.5"/><circle cx="167.29" cy="253.84" r="1.5"/><circle cx="169.07" cy="255.93" r="1.5"/><circle cx="170.86" cy="257.81" r="1.5"/><circle cx="172.64" cy="259.47" r="1.5"/><circle cx="174.68" cy="261.12" r="1.5"/><circle cx="176.71" cy="262.54" r="1.5"/><circle cx="179.05" cy="263.88" r="1.5"/><circle cx="181.38" cy="264.88" r="1.5"/><circle cx="183.75" cy="265.58" r="1.5"/><circle cx="186.29" cy="266.04" r="1.5"/><circle cx="188.84" cy="266.29" r="1.5"/><circle cx="191.56" cy="266.43" r="1.5"/><circle cx="194.23" cy="266.51" r="1.5"/><circle cx="196.68" cy="266.56" r="1.5"/><circle cx="199.23" cy="266.58" r="1.5"/><circle cx="201.78" cy="266.59" r="1.5"/><circle cx="204.25" cy="266.6" r="1.5"/><circle cx="206.9" cy="266.6" r="1.5"/></g>
<g fill="#fff" stroke="#d39872" stroke-width="0.65"><circle cx="36.5" cy="305.9" r="1.5"/><circle cx="38.98" cy="305.39" r="1.5"/><circle cx="41.5" cy="304.89" r="1.5"/><circle cx="44.27" cy="304.31" r="1.5"/><circle cx="46.69" cy="303.78" r="1.5"/><circle cx="49.18" cy="303.21" r="1.5"/><circle cx="51.69" cy="302.59" r="1.5"/><circle cx="54.19" cy="301.92" r="1.5"/><circle cx="56.7" cy="301.19" r="1.5"/><circle cx="59.23" cy="300.41" r="1.5"/><circle cx="61.8" cy="299.57" r="1.5"/><circle cx="64.38" cy="298.71" r="1.5"/><circle cx="66.95" cy="297.83" r="1.5"/><circle cx="69.47" cy="296.97" r="1.5"/><circle cx="71.92" cy="296.14" r="1.5"/><circle cx="74.29" cy="295.35" r="1.5"/><circle cx="76.58" cy="294.59" r="1.5"/><circle cx="79.24" cy="293.72" r="1.5"/><circle cx="81.79" cy="292.89" r="1.5"/><circle cx="84.24" cy="292.12" r="1.5"/><circle cx="86.57" cy="291.43" r="1.5"/><circle cx="89.09" cy="290.73" r="1.5"/><circle cx="91.75" cy="290.13" r="1.5"/><circle cx="94.37" cy="289.71" r="1.5"/><circle cx="96.88" cy="289.48" r="1.5"/><circle cx="99.46" cy="289.37" r="1.5"/><circle cx="102.05" cy="289.38" r="1.5"/><circle cx="104.52" cy="289.52" r="1.5"/><circle cx="106.9" cy="289.77" r="1.5"/><circle cx="109.34" cy="290.14" r="1.5"/><circle cx="111.97" cy="290.64" r="1.5"/><circle cx="114.53" cy="291.18" r="1.5"/><circle cx="117.2" cy="291.68" r="1.5"/><circle cx="119.79" cy="291.99" r="1.5"/><circle cx="122.45" cy="292.05" r="1.5"/><circle cx="124.91" cy="291.84" r="1.5"/><circle cx="127.29" cy="291.45" r="1.5"/><circle cx="129.84" cy="290.95" r="1.5"/><circle cx="132.37" cy="290.43" r="1.5"/><circle cx="134.9" cy="289.86" r="1.5"/><circle cx="137.42" cy="289.18" r="1.5"/><circle cx="139.95" cy="288.33" r="1.5"/><circle cx="142.22" cy="287.42" r="1.5"/><circle cx="144.49" cy="286.37" r="1.5"/><circle cx="146.76" cy="285.19" r="1.5"/><circle cx="149.04" cy="283.91" r="1.5"/><circle cx="151.31" cy="282.5" r="1.5"/><circle cx="153.33" cy="281.14" r="1.5"/><circle cx="155.34" cy="279.7" r="1.5"/><circle cx="157.36" cy="278.24" r="1.5"/><circle cx="159.39" cy="276.82" r="1.5"/><circle cx="161.42" cy="275.46" r="1.5"/><circle cx="163.46" cy="274.14" r="1.5"/><circle cx="165.5" cy="272.88" r="1.5"/><circle cx="167.81" cy="271.55" r="1.5"/><circle cx="169.96" cy="270.44" r="1.5"/><circle cx="172.4" cy="269.34" r="1.5"/><circle cx="174.8" cy="268.45" r="1.5"/><circle cx="177.42" cy="267.78" r="1.5"/><circle cx="179.97" cy="267.41" r="1.5"/><circle cx="182.52" cy="267.21" r="1.5"/><circle cx="185.55" cy="267.07" r="1.5"/><circle cx="188.31" cy="267" r="1.5"/><circle cx="191.28" cy="266.97" r="1.5"/><circle cx="194.36" cy="266.95" r="1.5"/><circle cx="197.46" cy="266.95" r="1.5"/><circle cx="200.52" cy="266.96" r="1.5"/><circle cx="203.45" cy="266.97" r="1.5"/><circle cx="206.07" cy="266.99" r="1.5"/><circle cx="208.5" cy="267" r="1.5"/></g>
<path d="M36.0,219.3 37.1,218.9 38.2,218.5 39.5,218.1 40.8,217.6 42.1,217.2 43.4,216.8 44.7,216.5 46.0,216.1 47.3,215.8 48.5,215.6 49.8,215.3 51.0,215.2 52.4,215.0 53.7,214.9 55.2,214.8 56.8,214.8 58.4,214.7 59.9,214.7 61.2,214.7 62.5,214.7 63.6,214.8 64.7,214.8 65.8,214.8 66.9,214.9 68.0,214.9 69.1,214.9 70.2,215.0 71.2,215.0 72.3,215.1 73.4,215.1 74.4,215.2 75.4,215.3 76.5,215.4 77.6,215.5 78.6,215.6 79.7,215.7 80.8,215.8 81.9,215.9 83.0,216.0 84.1,216.1 85.2,216.3 86.3,216.4 87.4,216.5 88.6,216.7 90.0,216.8 91.4,217.0 92.9,217.1 94.4,217.2 95.9,217.3 97.2,217.4 98.5,217.4 99.8,217.5 101.1,217.4 102.4,217.4 103.7,217.3 105.0,217.3 106.3,217.1 107.8,217.0 109.3,216.9 110.8,216.7 112.4,216.5 114.0,216.4 115.5,216.2 117.0,216.1 118.5,215.9 119.8,215.8 121.1,215.8 122.3,215.7 123.6,215.7 124.8,215.7 126.1,215.8 127.4,215.9 128.7,216.0 129.9,216.2 131.0,216.5 132.1,216.7 133.1,217.0 134.1,217.3 135.1,217.7 136.2,218.1 137.2,218.6 138.2,219.1 139.2,219.8 140.2,220.5 141.2,221.3 142.2,222.2 143.2,223.1 144.2,224.2 145.2,225.3 146.3,226.4 147.3,227.6 148.3,228.9 149.3,230.2 150.3,231.5 151.3,232.9 152.3,234.4 153.3,235.9 154.3,237.4 155.3,239.0 156.4,240.6 157.4,242.1 158.4,243.6 159.4,245.1 160.4,246.5 161.4,247.8 162.4,249.1 163.5,250.3 164.5,251.5 165.5,252.6 166.5,253.7 167.5,254.8 168.6,255.8 169.6,256.7 170.6,257.6 171.6,258.4 172.7,259.2 173.7,259.9 174.8,260.6 175.8,261.2 176.8,261.8 177.9,262.4 178.9,262.9 180.0,263.4 181.1,263.9 182.3,264.3 183.5,264.8 184.7,265.2 185.9,265.5 187.0,265.8 188.0,266.0 188.0,266.0" fill="none" stroke="#ff6b6b" stroke-width="1.15" stroke-linejoin="round" stroke-linecap="round" />
<path d="M36.0,313.1 37.1,312.7 38.6,312.3 40.0,311.8 41.4,311.4 42.6,311.0 43.8,310.6 44.9,310.3 45.9,310.0 47.0,309.6 48.0,309.3 49.1,309.0 50.1,308.7 51.2,308.4 52.2,308.1 53.3,307.8 54.4,307.5 55.5,307.1 56.5,306.8 57.6,306.6 58.6,306.3 59.6,306.0 60.6,305.7 61.6,305.5 62.6,305.2 63.7,304.9 64.7,304.7 65.7,304.4 66.7,304.1 67.8,303.9 68.8,303.6 69.8,303.4 70.8,303.2 71.9,302.9 72.9,302.7 73.9,302.5 75.0,302.3 76.1,302.1 77.4,301.9 78.9,301.6 80.5,301.4 82.1,301.1 83.7,300.9 85.2,300.7 86.5,300.5 87.7,300.3 88.8,300.2 89.8,300.0 90.9,299.9 92.0,299.8 93.1,299.6 94.2,299.5 95.4,299.3 96.6,299.2 97.8,299.0 99.1,298.9 100.4,298.7 101.8,298.5 103.1,298.4 104.5,298.2 105.9,298.1 107.3,297.9 108.6,297.7 110.0,297.6 111.3,297.4 112.6,297.3 113.9,297.1 115.2,297.0 116.4,296.8 117.7,296.7 119.0,296.5 120.4,296.3 121.8,296.2 123.1,296.0 124.4,295.8 125.7,295.6 126.9,295.4 128.1,295.1 129.3,294.9 130.4,294.6 131.5,294.3 132.6,294.0 133.6,293.7 134.6,293.4 135.7,293.1 136.7,292.7 137.7,292.3 138.7,291.9 139.7,291.5 140.7,291.0 141.7,290.5 142.7,290.0 143.7,289.4 144.7,288.8 145.8,288.2 146.8,287.5 147.8,286.9 148.8,286.2 149.8,285.5 150.8,284.8 151.8,284.0 152.8,283.2 153.8,282.4 154.8,281.5 155.8,280.7 156.9,279.8 157.9,279.0 158.9,278.3 159.9,277.5 160.9,276.9 161.9,276.2 162.9,275.7 164.0,275.1 165.0,274.6 166.0,274.1 167.0,273.6 168.1,273.2 169.1,272.7 170.1,272.3 171.1,271.9 172.2,271.6 173.2,271.2 174.3,270.9 175.3,270.6 176.4,270.3 177.4,270.0 178.6,269.7 179.7,269.4 181.0,269.1 182.2,268.8 183.4,268.5 184.7,268.2 185.9,268.0 187.0,267.8 188.0,267.6 188.0,267.6" fill="none" stroke="#ff6b6b" stroke-width="1.15" stroke-linejoin="round" stroke-linecap="round" />
<g fill="#fff" stroke="#d39872" stroke-width="0.65"><circle cx="176.71" cy="262.54" r="1.5"/><circle cx="179.05" cy="263.88" r="1.5"/><circle cx="181.38" cy="264.88" r="1.5"/><circle cx="183.75" cy="265.58" r="1.5"/><circle cx="186.29" cy="266.04" r="1.5"/><circle cx="188.84" cy="266.29" r="1.5"/><circle cx="191.56" cy="266.43" r="1.5"/><circle cx="194.23" cy="266.51" r="1.5"/><circle cx="196.68" cy="266.56" r="1.5"/><circle cx="199.23" cy="266.58" r="1.5"/><circle cx="201.78" cy="266.59" r="1.5"/><circle cx="204.25" cy="266.6" r="1.5"/><circle cx="206.9" cy="266.6" r="1.5"/></g>
<g fill="#fff" stroke="#d39872" stroke-width="0.65"><circle cx="177.42" cy="267.78" r="1.5"/><circle cx="179.97" cy="267.41" r="1.5"/><circle cx="182.52" cy="267.21" r="1.5"/><circle cx="185.55" cy="267.07" r="1.5"/><circle cx="188.31" cy="267" r="1.5"/><circle cx="191.28" cy="266.97" r="1.5"/><circle cx="194.36" cy="266.95" r="1.5"/><circle cx="197.46" cy="266.95" r="1.5"/><circle cx="200.52" cy="266.96" r="1.5"/><circle cx="203.45" cy="266.97" r="1.5"/><circle cx="206.07" cy="266.99" r="1.5"/><circle cx="208.5" cy="267" r="1.5"/></g>
<line x1="35.12" y1="196.5" x2="209.98" y2="196.5" stroke="#111" stroke-width="1.35" />
<line x1="35.12" y1="337.9" x2="209.98" y2="337.9" stroke="#111" stroke-width="1.35" />
<line x1="35.8" y1="196.5" x2="35.8" y2="337.9" stroke="#111" stroke-width="1.35" />
<line x1="209.3" y1="196.5" x2="209.3" y2="337.9" stroke="#111" stroke-width="1.35" />
<line x1="55.08" y1="337.9" x2="55.08" y2="335.3" stroke="#1a1a1a" stroke-width="1.1" />
<text transform="translate(55.08,346.4) scale(1,1.17)" font-size="7.5" text-anchor="middle" fill="#1a1a1a" font-family='"Liberation Sans", sans-serif' >−0.2</text>
<line x1="93.64" y1="337.9" x2="93.64" y2="335.3" stroke="#1a1a1a" stroke-width="1.1" />
<text transform="translate(93.64,346.4) scale(1,1.17)" font-size="7.5" text-anchor="middle" fill="#1a1a1a" font-family='"Liberation Sans", sans-serif' >0.0</text>
<line x1="132.2" y1="337.9" x2="132.2" y2="335.3" stroke="#1a1a1a" stroke-width="1.1" />
<text transform="translate(132.2,346.4) scale(1,1.17)" font-size="7.5" text-anchor="middle" fill="#1a1a1a" font-family='"Liberation Sans", sans-serif' >0.2</text>
<line x1="170.76" y1="337.9" x2="170.76" y2="335.3" stroke="#1a1a1a" stroke-width="1.1" />
<text transform="translate(170.76,346.4) scale(1,1.17)" font-size="7.5" text-anchor="middle" fill="#1a1a1a" font-family='"Liberation Sans", sans-serif' >0.4</text>
<line x1="209.32" y1="337.9" x2="209.32" y2="335.3" stroke="#1a1a1a" stroke-width="1.1" />
<text transform="translate(209.32,346.4) scale(1,1.17)" font-size="7.5" text-anchor="middle" fill="#1a1a1a" font-family='"Liberation Sans", sans-serif' >0.6</text>
<line x1="74.36" y1="337.9" x2="74.36" y2="336.4" stroke="#1a1a1a" stroke-width="0.9" />
<line x1="112.92" y1="337.9" x2="112.92" y2="336.4" stroke="#1a1a1a" stroke-width="0.9" />
<line x1="151.48" y1="337.9" x2="151.48" y2="336.4" stroke="#1a1a1a" stroke-width="0.9" />
<line x1="190.04" y1="337.9" x2="190.04" y2="336.4" stroke="#1a1a1a" stroke-width="0.9" />
<line x1="35.8" y1="210.7" x2="38.4" y2="210.7" stroke="#1a1a1a" stroke-width="1.1" />
<text transform="translate(33.9,213.2) scale(1,1.17)" font-size="7.5" text-anchor="end" fill="#1a1a1a" font-family='"Liberation Sans", sans-serif' >0.12</text>
<line x1="35.8" y1="229.5" x2="38.4" y2="229.5" stroke="#1a1a1a" stroke-width="1.1" />
<text transform="translate(33.9,232) scale(1,1.17)" font-size="7.5" text-anchor="end" fill="#1a1a1a" font-family='"Liberation Sans", sans-serif' >0.08</text>
<line x1="35.8" y1="248.3" x2="38.4" y2="248.3" stroke="#1a1a1a" stroke-width="1.1" />
<text transform="translate(33.9,250.8) scale(1,1.17)" font-size="7.5" text-anchor="end" fill="#1a1a1a" font-family='"Liberation Sans", sans-serif' >0.04</text>
<line x1="35.8" y1="267.1" x2="38.4" y2="267.1" stroke="#1a1a1a" stroke-width="1.1" />
<text transform="translate(33.9,269.6) scale(1,1.17)" font-size="7.5" text-anchor="end" fill="#1a1a1a" font-family='"Liberation Sans", sans-serif' >0.00</text>
<line x1="35.8" y1="201.3" x2="37.3" y2="201.3" stroke="#1a1a1a" stroke-width="0.9" />
<line x1="35.8" y1="220.1" x2="37.3" y2="220.1" stroke="#1a1a1a" stroke-width="0.9" />
<line x1="35.8" y1="238.9" x2="37.3" y2="238.9" stroke="#1a1a1a" stroke-width="0.9" />
<line x1="35.8" y1="257.7" x2="37.3" y2="257.7" stroke="#1a1a1a" stroke-width="0.9" />
<line x1="35.8" y1="290.91" x2="38.4" y2="290.91" stroke="#1a1a1a" stroke-width="1.1" />
<text transform="translate(33.9,293.41) scale(1,1.17)" font-size="7.5" text-anchor="end" fill="#1a1a1a" font-family='"Liberation Sans", sans-serif' >−1.5</text>
<line x1="35.8" y1="314.71" x2="38.4" y2="314.71" stroke="#1a1a1a" stroke-width="1.1" />
<text transform="translate(33.9,317.21) scale(1,1.17)" font-size="7.5" text-anchor="end" fill="#1a1a1a" font-family='"Liberation Sans", sans-serif' >−3.0</text>
<line x1="35.8" y1="338.51" x2="38.4" y2="338.51" stroke="#1a1a1a" stroke-width="1.1" />
<text transform="translate(33.9,341.01) scale(1,1.17)" font-size="7.5" text-anchor="end" fill="#1a1a1a" font-family='"Liberation Sans", sans-serif' >−4.5</text>
<line x1="35.8" y1="279" x2="37.3" y2="279" stroke="#1a1a1a" stroke-width="0.9" />
<line x1="35.8" y1="302.81" x2="37.3" y2="302.81" stroke="#1a1a1a" stroke-width="0.9" />
<line x1="35.8" y1="326.61" x2="37.3" y2="326.61" stroke="#1a1a1a" stroke-width="0.9" />
<text transform="translate(10.6,225.1) rotate(-90)" font-size="10.4" text-anchor="middle" fill="#1a1a1a" font-family='"Liberation Sans", sans-serif'>j<tspan font-size="5.6" font-style="italic" dy="2.2">ring</tspan><tspan dy="-2.2"> (mA)</tspan></text>
<text transform="translate(13.3,302) rotate(-90)" font-size="10.1" text-anchor="middle" fill="#1a1a1a" font-family='"Liberation Sans", sans-serif'>j<tspan font-size="5.6" font-style="italic" dy="2.2">disk</tspan><tspan dy="-2.2"> (mA cm</tspan><tspan font-size="6.5" dy="-4">-2</tspan><tspan dy="4">)</tspan></text>
<text x="122.35" y="362.4" font-size="10.5" text-anchor="middle" fill="#1a1a1a" font-family='"Liberation Sans", sans-serif'  textLength="100.3" lengthAdjust="spacingAndGlyphs">Potential (V <tspan font-family='"Liberation Serif", serif' font-style="italic">vs.</tspan> RHE)</text>
<line x1="164.3" y1="202.9" x2="179" y2="202.9" stroke="#8a8a8a" stroke-width="1.3" />
<text transform="translate(180.9,205.3) scale(1,1.1)" font-size="6.5" text-anchor="start" fill="#1a1a1a" font-family='"Liberation Sans", sans-serif'  textLength="23.9" lengthAdjust="spacingAndGlyphs">Mn-BTA</text>
<line x1="164.3" y1="211" x2="179" y2="211" stroke="#1f9b2a" stroke-width="1.3" />
<text transform="translate(180.9,213.4) scale(1,1.1)" font-size="6.5" text-anchor="start" fill="#1a1a1a" font-family='"Liberation Sans", sans-serif'  textLength="23.9" lengthAdjust="spacingAndGlyphs">Fe-BTA</text>
<line x1="164.3" y1="219.1" x2="179" y2="219.1" stroke="#1a8a96" stroke-width="1.3" />
<text transform="translate(180.9,221.5) scale(1,1.1)" font-size="6.5" text-anchor="start" fill="#1a1a1a" font-family='"Liberation Sans", sans-serif'  textLength="23.9" lengthAdjust="spacingAndGlyphs">Co-BTA</text>
<line x1="164.3" y1="227.2" x2="179" y2="227.2" stroke="#ff6b6b" stroke-width="1.3" />
<text transform="translate(180.9,229.6) scale(1,1.1)" font-size="6.5" text-anchor="start" fill="#1a1a1a" font-family='"Liberation Sans", sans-serif'  textLength="23.9" lengthAdjust="spacingAndGlyphs">Cu-BTA</text>
<line x1="164.3" y1="235.3" x2="179" y2="235.3" stroke="#c0652f" stroke-width="1.7" />
<text transform="translate(180.9,237.7) scale(1,1.1)" font-size="6.5" text-anchor="start" fill="#1a1a1a" font-family='"Liberation Sans", sans-serif'  textLength="21.2" lengthAdjust="spacingAndGlyphs">Ni-BTA</text>
<circle cx="171.6" cy="235.3" r="1.8" fill="#fff" stroke="#c0652f" stroke-width="0.8"/>
<text transform="translate(139.6,327.6) scale(1,1.1)" font-size="7.5" text-anchor="start" fill="#1c5a9c" font-family='"Liberation Sans", sans-serif'  textLength="61.3" lengthAdjust="spacingAndGlyphs">in 3.6 <tspan font-style="italic">wt.</tspan>% NaCl</text>
<text x="224.3" y="195.2" font-size="13.4" text-anchor="start" fill="#000" font-family='"Liberation Sans", sans-serif' font-weight="bold">e</text>
<path d="M257.6,274.0 258.9,273.9 260.4,273.8 262.1,273.6 263.7,273.5 265.3,273.4 266.8,273.3 268.2,273.2 269.4,273.1 270.6,273.0 271.9,272.9 273.3,272.8 274.8,272.7 276.4,272.6 278.1,272.5 279.9,272.4 281.6,272.3 283.3,272.3 284.8,272.2 286.3,272.1 287.6,272.1 288.9,272.0 290.1,272.0 291.4,271.9 292.7,271.9 294.1,271.8 295.6,271.8 297.2,271.8 298.8,271.7 300.6,271.7 302.4,271.6 304.3,271.6 306.3,271.6 308.3,271.5 310.4,271.5 312.5,271.5 314.6,271.4 316.8,271.4 318.9,271.4 321.0,271.3 323.2,271.3 325.2,271.2 327.3,271.2 329.3,271.1 331.2,271.1 333.1,271.0 334.9,271.0 336.7,270.9 338.4,270.9 340.1,270.8 341.7,270.7 343.4,270.6 345.0,270.5 346.6,270.4 348.1,270.4 349.7,270.3 351.2,270.2 352.7,270.1 354.1,270.0 355.6,269.9 357.0,269.9 358.4,269.8 359.7,269.7 361.1,269.7 362.4,269.7 363.7,269.6 364.9,269.6 366.2,269.6 367.4,269.6 368.5,269.6 369.7,269.7 370.8,269.7 371.9,269.7 373.1,269.8 374.4,269.9 375.9,270.0 377.5,270.1 379.2,270.2 381.0,270.4 382.8,270.6 384.5,270.8 386.2,271.0 387.9,271.2 389.5,271.5 391.1,271.8 392.6,272.1 394.1,272.4 395.6,272.7 397.0,272.9 398.3,273.2 399.6,273.5 400.8,273.8 402.0,274.1 403.1,274.3 404.3,274.6 405.4,274.9 406.6,275.2 407.8,275.5 409.1,275.8 410.3,276.0 411.5,276.2 412.7,276.4 413.8,276.6 415.0,276.7 416.1,276.8 417.3,276.8 418.4,276.8 419.6,276.8 420.8,276.7 422.0,276.6 423.2,276.4 424.4,276.2 425.5,275.8 426.6,275.4 427.6,275.0 428.6,274.4 429.6,273.9 430.5,273.3 431.0,273.0" fill="none" stroke="#8a8a8a" stroke-width="1" stroke-linejoin="round" stroke-linecap="round" />
<path d="M257.6,325.6 258.8,325.2 260.0,324.8 261.2,324.4 262.4,324.0 263.6,323.5 264.8,323.1 266.0,322.6 267.3,322.1 268.5,321.6 269.8,321.1 271.0,320.6 272.3,320.0 273.6,319.4 274.9,318.8 276.2,318.2 277.5,317.5 278.9,316.9 280.2,316.2 281.5,315.4 282.8,314.6 284.1,313.8 285.4,313.0 286.8,312.1 288.1,311.2 289.4,310.2 290.7,309.2 291.9,308.2 293.2,307.1 294.4,306.0 295.7,304.9 296.8,303.7 298.0,302.6 299.1,301.5 300.1,300.4 301.2,299.3 302.1,298.2 303.1,297.2 304.0,296.1 304.9,295.1 305.8,294.1 306.7,293.1 307.6,292.1 308.5,291.2 309.3,290.2 310.1,289.3 311.0,288.4 311.8,287.5 312.6,286.6 313.4,285.7 314.3,284.7 315.1,283.8 316.0,282.8 316.9,281.8 317.8,280.8 318.8,279.8 319.7,278.8 320.7,277.7 321.6,276.7 322.6,275.7 323.5,274.7 324.4,273.8 325.3,272.8 326.2,271.9 327.1,271.0 328.0,270.1 328.8,269.3 329.7,268.4 330.6,267.6 331.5,266.8 332.4,266.0 333.4,265.2 334.3,264.4 335.2,263.6 336.1,262.9 337.1,262.1 338.0,261.4 339.0,260.7 339.9,260.0 340.9,259.4 341.9,258.7 342.9,258.1 343.9,257.5 344.9,256.9 346.0,256.3 347.1,255.7 348.2,255.2 349.4,254.6 350.6,254.1 351.8,253.5 353.1,253.0 354.4,252.5 355.8,252.0 357.1,251.5 358.6,251.1 360.0,250.6 361.4,250.2 362.9,249.8 364.4,249.4 365.9,249.0 367.4,248.7 368.9,248.3 370.4,248.0 371.9,247.7 373.4,247.4 375.0,247.1 376.5,246.8 378.0,246.5 379.5,246.3 381.0,246.0 382.5,245.8 384.0,245.5 385.5,245.3 386.9,245.1 388.4,244.9 389.8,244.7 391.3,244.5 392.7,244.4 394.1,244.2 395.5,244.1 396.9,243.9 398.3,243.8 399.7,243.7 401.1,243.5 402.5,243.4 403.9,243.3 405.3,243.2 406.7,243.1 408.1,243.0 409.5,242.9 410.9,242.8 412.3,242.7 413.7,242.6 415.0,242.6 416.3,242.5 417.6,242.5 418.9,242.5 420.1,242.5 421.4,242.5 422.6,242.6 423.8,242.6 425.0,242.7 426.1,242.8 427.3,243.0 428.4,243.1 429.5,243.3 430.6,243.5 431.0,243.6" fill="none" stroke="#1f9b2a" stroke-width="1.2" stroke-linejoin="round" stroke-linecap="round" />
<path d="M257.6,252.0 259.0,251.6 260.5,251.1 262.0,250.7 263.4,250.2 264.7,249.9 265.9,249.5 267.1,249.2 268.1,248.9 269.2,248.6 270.2,248.3 271.3,248.0 272.4,247.7 273.5,247.4 274.8,247.1 276.2,246.8 277.5,246.5 278.8,246.3 279.9,246.0 281.0,245.8 282.1,245.6 283.1,245.4 284.1,245.2 285.1,245.1 286.2,244.9 287.2,244.7 288.2,244.6 289.3,244.4 290.3,244.2 291.3,244.1 292.3,243.9 293.4,243.8 294.5,243.6 295.6,243.5 296.9,243.3 298.4,243.1 300.0,243.0 301.8,242.8 303.6,242.6 305.3,242.4 306.8,242.3 308.2,242.2 309.5,242.0 310.6,241.9 311.8,241.8 312.9,241.7 314.0,241.6 315.2,241.5 316.4,241.4 317.6,241.3 318.9,241.2 320.2,241.1 321.6,241.0 322.9,240.9 324.3,240.8 325.8,240.6 327.2,240.5 328.6,240.4 330.1,240.3 331.5,240.2 332.9,240.0 334.4,239.9 335.8,239.8 337.1,239.7 338.5,239.6 339.8,239.5 341.1,239.4 342.3,239.3 343.5,239.2 344.7,239.1 345.8,239.0 346.9,238.9 348.0,238.8 349.2,238.7 350.4,238.6 351.8,238.5 353.4,238.3 355.1,238.2 356.9,238.0 358.7,237.9 360.4,237.7 362.0,237.6 363.3,237.5 364.6,237.4 365.7,237.3 366.7,237.2 367.7,237.1 368.8,237.0 369.8,236.9 370.8,236.7 371.8,236.6 372.8,236.5 373.8,236.4 374.8,236.3 375.8,236.2 376.8,236.1 377.8,236.0 378.8,235.9 379.9,235.8 380.9,235.7 381.9,235.6 382.9,235.5 383.9,235.5 384.9,235.4 386.0,235.3 387.0,235.2 388.1,235.1 389.1,235.0 390.1,235.0 391.2,234.9 392.2,234.8 393.3,234.7 394.3,234.7 395.4,234.6 396.5,234.5 397.6,234.4 398.9,234.3 400.4,234.2 402.0,234.1 403.7,234.0 405.4,233.9 407.2,233.8 408.9,233.7 410.6,233.6 412.2,233.5 413.8,233.4 415.4,233.2 416.9,233.1 418.3,232.9 419.7,232.7 421.1,232.5 422.5,232.2 423.8,231.9 425.1,231.6 426.3,231.3 427.5,231.0 428.6,230.7 429.7,230.4 430.7,230.1 431.0,230.0" fill="none" stroke="#1a8a96" stroke-width="1.1" stroke-linejoin="round" stroke-linecap="round" />
<path d="M257.6,253.3 258.7,252.9 260.1,252.4 261.6,251.8 263.0,251.3 264.3,250.8 265.5,250.4 266.6,250.0 267.6,249.6 268.7,249.2 269.7,248.9 270.7,248.5 271.8,248.1 272.8,247.8 273.9,247.4 275.1,247.1 276.3,246.7 277.4,246.3 278.5,246.0 279.5,245.7 280.6,245.4 281.6,245.1 282.6,244.8 283.6,244.6 284.6,244.3 285.7,244.0 286.7,243.7 287.7,243.5 288.7,243.2 289.8,242.9 290.8,242.7 291.8,242.4 292.8,242.1 293.9,241.9 294.9,241.6 296.0,241.4 297.1,241.1 298.4,240.8 299.8,240.4 301.4,240.0 303.0,239.6 304.6,239.3 306.1,238.9 307.4,238.7 308.5,238.4 309.6,238.2 310.7,237.9 311.8,237.7 312.9,237.5 314.0,237.2 315.2,237.0 316.4,236.8 317.6,236.5 318.9,236.3 320.2,236.0 321.6,235.8 322.9,235.5 324.3,235.3 325.8,235.0 327.2,234.8 328.6,234.5 330.1,234.3 331.5,234.0 332.9,233.8 334.4,233.6 335.8,233.3 337.1,233.1 338.5,232.9 339.8,232.7 341.1,232.5 342.3,232.3 343.5,232.1 344.7,232.0 345.8,231.8 346.9,231.7 348.0,231.5 349.2,231.4 350.4,231.3 351.8,231.1 353.4,231.0 355.1,230.8 356.9,230.6 358.7,230.4 360.4,230.3 362.0,230.1 363.3,230.0 364.6,229.9 365.7,229.7 366.7,229.6 367.7,229.5 368.8,229.4 369.8,229.3 370.8,229.2 371.8,229.1 372.8,229.0 373.8,228.9 374.8,228.8 375.8,228.7 376.8,228.6 377.8,228.5 378.8,228.4 379.9,228.3 380.9,228.2 381.9,228.1 382.9,228.0 383.9,228.0 385.0,227.9 386.0,227.8 387.1,227.7 388.1,227.6 389.2,227.5 390.3,227.4 391.4,227.4 392.4,227.3 393.5,227.2 394.6,227.1 395.7,227.0 396.9,226.9 398.2,226.8 399.6,226.7 401.1,226.6 402.7,226.5 404.3,226.4 405.8,226.2 407.2,226.1 408.5,226.0 409.8,225.9 411.0,225.8 412.1,225.7 413.2,225.6 414.3,225.5 415.4,225.3 416.5,225.1 417.7,224.9 418.9,224.7 420.1,224.4 421.3,224.1 422.4,223.7 423.6,223.3 424.7,222.9 425.9,222.4 427.1,221.9 428.2,221.3 429.3,220.8 430.3,220.2 431.0,219.9 431.0,219.9" fill="none" stroke="#ff6b6b" stroke-width="1.1" stroke-linejoin="round" stroke-linecap="round" />
<g fill="#fff" stroke="#cc8a62" stroke-width="0.7"><circle cx="258.3" cy="231" r="1.75"/><circle cx="261.05" cy="229.49" r="1.75"/><circle cx="263.97" cy="228.01" r="1.75"/><circle cx="266.6" cy="226.77" r="1.75"/><circle cx="269.43" cy="225.55" r="1.75"/><circle cx="272.32" cy="224.39" r="1.75"/><circle cx="275.18" cy="223.33" r="1.75"/><circle cx="277.98" cy="222.39" r="1.75"/><circle cx="280.76" cy="221.54" r="1.75"/><circle cx="283.63" cy="220.75" r="1.75"/><circle cx="286.7" cy="219.98" r="1.75"/><circle cx="289.56" cy="219.34" r="1.75"/><circle cx="292.42" cy="218.79" r="1.75"/><circle cx="295.29" cy="218.35" r="1.75"/><circle cx="298.49" cy="217.93" r="1.75"/><circle cx="301.67" cy="217.57" r="1.75"/><circle cx="304.64" cy="217.25" r="1.75"/><circle cx="307.82" cy="216.93" r="1.75"/><circle cx="311.16" cy="216.62" r="1.75"/><circle cx="314.09" cy="216.35" r="1.75"/><circle cx="317.16" cy="216.09" r="1.75"/><circle cx="320.38" cy="215.83" r="1.75"/><circle cx="323.76" cy="215.56" r="1.75"/><circle cx="327.24" cy="215.3" r="1.75"/><circle cx="330.77" cy="215.04" r="1.75"/><circle cx="334.26" cy="214.79" r="1.75"/><circle cx="337.65" cy="214.56" r="1.75"/><circle cx="340.87" cy="214.35" r="1.75"/><circle cx="343.91" cy="214.16" r="1.75"/><circle cx="347.3" cy="213.96" r="1.75"/><circle cx="350.46" cy="213.79" r="1.75"/><circle cx="353.47" cy="213.65" r="1.75"/><circle cx="356.4" cy="213.51" r="1.75"/><circle cx="359.32" cy="213.38" r="1.75"/><circle cx="362.26" cy="213.24" r="1.75"/><circle cx="365.24" cy="213.09" r="1.75"/><circle cx="368.25" cy="212.93" r="1.75"/><circle cx="371.28" cy="212.77" r="1.75"/><circle cx="374.3" cy="212.62" r="1.75"/><circle cx="377.33" cy="212.47" r="1.75"/><circle cx="380.36" cy="212.34" r="1.75"/><circle cx="383.36" cy="212.23" r="1.75"/><circle cx="386.33" cy="212.15" r="1.75"/><circle cx="389.28" cy="212.09" r="1.75"/><circle cx="392.22" cy="212.05" r="1.75"/><circle cx="395.22" cy="212" r="1.75"/><circle cx="398.35" cy="211.94" r="1.75"/><circle cx="401.69" cy="211.84" r="1.75"/><circle cx="404.71" cy="211.72" r="1.75"/><circle cx="407.99" cy="211.56" r="1.75"/><circle cx="411.51" cy="211.37" r="1.75"/><circle cx="414.42" cy="211.2" r="1.75"/><circle cx="417.35" cy="211.02" r="1.75"/><circle cx="420.95" cy="210.8" r="1.75"/><circle cx="424.4" cy="210.58" r="1.75"/><circle cx="427.51" cy="210.38" r="1.75"/></g>
<line x1="258.6" y1="210.62" x2="431.3" y2="210.62" stroke="#555" stroke-width="0.9" stroke-dasharray="1.3 1.7"/>
<line x1="258.6" y1="224.64" x2="431.3" y2="224.64" stroke="#555" stroke-width="0.9" stroke-dasharray="1.3 1.7"/>
<line x1="256.93" y1="196.6" x2="431.98" y2="196.6" stroke="#111" stroke-width="1.35" />
<line x1="256.93" y1="337.9" x2="431.98" y2="337.9" stroke="#111" stroke-width="1.35" />
<line x1="257.6" y1="196.6" x2="257.6" y2="337.9" stroke="#111" stroke-width="1.35" />
<line x1="431.3" y1="196.6" x2="431.3" y2="337.9" stroke="#111" stroke-width="1.35" />
<line x1="270.94" y1="337.9" x2="270.94" y2="335.3" stroke="#1a1a1a" stroke-width="1.1" />
<text transform="translate(270.94,347.6) scale(1,1.17)" font-size="8.2" text-anchor="middle" fill="#1a1a1a" font-family='"Liberation Sans", sans-serif' >−0.2</text>
<line x1="324.3" y1="337.9" x2="324.3" y2="335.3" stroke="#1a1a1a" stroke-width="1.1" />
<text transform="translate(324.3,347.6) scale(1,1.17)" font-size="8.2" text-anchor="middle" fill="#1a1a1a" font-family='"Liberation Sans", sans-serif' >0.0</text>
<line x1="377.66" y1="337.9" x2="377.66" y2="335.3" stroke="#1a1a1a" stroke-width="1.1" />
<text transform="translate(377.66,347.6) scale(1,1.17)" font-size="8.2" text-anchor="middle" fill="#1a1a1a" font-family='"Liberation Sans", sans-serif' >0.2</text>
<line x1="431.02" y1="337.9" x2="431.02" y2="335.3" stroke="#1a1a1a" stroke-width="1.1" />
<text transform="translate(431.02,347.6) scale(1,1.17)" font-size="8.2" text-anchor="middle" fill="#1a1a1a" font-family='"Liberation Sans", sans-serif' >0.4</text>
<line x1="297.62" y1="337.9" x2="297.62" y2="336.4" stroke="#1a1a1a" stroke-width="0.9" />
<line x1="350.98" y1="337.9" x2="350.98" y2="336.4" stroke="#1a1a1a" stroke-width="0.9" />
<line x1="404.34" y1="337.9" x2="404.34" y2="336.4" stroke="#1a1a1a" stroke-width="0.9" />
<line x1="257.6" y1="336.8" x2="260.2" y2="336.8" stroke="#1a1a1a" stroke-width="1.1" />
<text transform="translate(254.3,339.3) scale(1,1.17)" font-size="8" text-anchor="end" fill="#1a1a1a" font-family='"Liberation Sans", sans-serif' >0</text>
<line x1="257.6" y1="308.76" x2="260.2" y2="308.76" stroke="#1a1a1a" stroke-width="1.1" />
<text transform="translate(254.3,311.26) scale(1,1.17)" font-size="8" text-anchor="end" fill="#1a1a1a" font-family='"Liberation Sans", sans-serif' >20</text>
<line x1="257.6" y1="280.72" x2="260.2" y2="280.72" stroke="#1a1a1a" stroke-width="1.1" />
<text transform="translate(254.3,283.22) scale(1,1.17)" font-size="8" text-anchor="end" fill="#1a1a1a" font-family='"Liberation Sans", sans-serif' >40</text>
<line x1="257.6" y1="252.68" x2="260.2" y2="252.68" stroke="#1a1a1a" stroke-width="1.1" />
<text transform="translate(254.3,255.18) scale(1,1.17)" font-size="8" text-anchor="end" fill="#1a1a1a" font-family='"Liberation Sans", sans-serif' >60</text>
<line x1="257.6" y1="224.64" x2="260.2" y2="224.64" stroke="#1a1a1a" stroke-width="1.1" />
<text transform="translate(254.3,227.14) scale(1,1.17)" font-size="8" text-anchor="end" fill="#1a1a1a" font-family='"Liberation Sans", sans-serif' >80</text>
<line x1="257.6" y1="196.6" x2="260.2" y2="196.6" stroke="#1a1a1a" stroke-width="1.1" />
<text transform="translate(254.3,199.1) scale(1,1.17)" font-size="8" text-anchor="end" fill="#1a1a1a" font-family='"Liberation Sans", sans-serif' >100</text>
<line x1="257.6" y1="322.78" x2="259.1" y2="322.78" stroke="#1a1a1a" stroke-width="0.9" />
<line x1="257.6" y1="294.74" x2="259.1" y2="294.74" stroke="#1a1a1a" stroke-width="0.9" />
<line x1="257.6" y1="266.7" x2="259.1" y2="266.7" stroke="#1a1a1a" stroke-width="0.9" />
<line x1="257.6" y1="238.66" x2="259.1" y2="238.66" stroke="#1a1a1a" stroke-width="0.9" />
<line x1="257.6" y1="210.62" x2="259.1" y2="210.62" stroke="#1a1a1a" stroke-width="0.9" />
<text transform="translate(234.4,275.9) rotate(-90)" font-size="10.4" text-anchor="middle" fill="#1a1a1a" font-family='"Liberation Sans", sans-serif'>H<tspan font-size="6.8" dy="2">2</tspan><tspan dy="-2">O</tspan><tspan font-size="6.8" dy="2">2</tspan><tspan dy="-2"> selectivity (%)</tspan></text>
<text x="344.1" y="363.5" font-size="10.5" text-anchor="middle" fill="#1a1a1a" font-family='"Liberation Sans", sans-serif'  textLength="96.8" lengthAdjust="spacingAndGlyphs">Potential (V <tspan font-family='"Liberation Serif", serif' font-style="italic">vs.</tspan> RHE)</text>
<line x1="284.3" y1="319" x2="300.5" y2="319" stroke="#8a8a8a" stroke-width="1.3" />
<text transform="translate(302.9,321.6) scale(1,1.1)" font-size="7.2" text-anchor="start" fill="#1a1a1a" font-family='"Liberation Sans", sans-serif'  textLength="27.3" lengthAdjust="spacingAndGlyphs">Mn-BTA</text>
<line x1="284.3" y1="328.7" x2="300.5" y2="328.7" stroke="#1f9b2a" stroke-width="1.3" />
<text transform="translate(302.9,331.3) scale(1,1.1)" font-size="7.2" text-anchor="start" fill="#1a1a1a" font-family='"Liberation Sans", sans-serif'  textLength="27.3" lengthAdjust="spacingAndGlyphs">Fe-BTA</text>
<line x1="336" y1="319.2" x2="352.2" y2="319.2" stroke="#1a8a96" stroke-width="1.3" />
<text transform="translate(354.6,321.8) scale(1,1.1)" font-size="7.2" text-anchor="start" fill="#1a1a1a" font-family='"Liberation Sans", sans-serif'  textLength="27.3" lengthAdjust="spacingAndGlyphs">Co-BTA</text>
<line x1="336" y1="329.1" x2="352.2" y2="329.1" stroke="#ff6b6b" stroke-width="1.3" />
<text transform="translate(354.6,331.7) scale(1,1.1)" font-size="7.2" text-anchor="start" fill="#1a1a1a" font-family='"Liberation Sans", sans-serif'  textLength="27.3" lengthAdjust="spacingAndGlyphs">Cu-BTA</text>
<line x1="384.5" y1="324.3" x2="400.6" y2="324.3" stroke="#c8835a" stroke-width="1.5" />
<circle cx="392.5" cy="324.3" r="1.3" fill="#fff" stroke="#c8835a" stroke-width="0.7"/>
<text transform="translate(403.1,326.9) scale(1,1.1)" font-size="7.2" text-anchor="start" fill="#1a1a1a" font-family='"Liberation Sans", sans-serif'  textLength="24.9" lengthAdjust="spacingAndGlyphs">Ni-BTA</text>
<text transform="translate(363.6,307.3) scale(1,1.1)" font-size="7.5" text-anchor="start" fill="#1c5a9c" font-family='"Liberation Sans", sans-serif'  textLength="61.3" lengthAdjust="spacingAndGlyphs">in 3.6 <tspan font-style="italic">wt.</tspan>% NaCl</text>
<text x="447.7" y="195.2" font-size="13.4" text-anchor="start" fill="#000" font-family='"Liberation Sans", sans-serif' font-weight="bold">f</text>
<rect x="492" y="235.8" width="5.45" height="101.4" fill="url(#hg)"/>
<rect x="497.45" y="244.7" width="5.45" height="92.5" fill="url(#ho)"/>
<rect x="502.9" y="243.1" width="5.45" height="94.1" fill="url(#hb)"/>
<rect x="514.85" y="247.9" width="5.45" height="89.3" fill="url(#hg)"/>
<rect x="520.3" y="253.5" width="5.45" height="83.7" fill="url(#ho)"/>
<rect x="525.75" y="260.9" width="5.45" height="76.3" fill="url(#hb)"/>
<rect x="537.7" y="264.8" width="5.45" height="72.4" fill="url(#hg)"/>
<rect x="543.15" y="266.8" width="5.45" height="70.4" fill="url(#ho)"/>
<rect x="548.6" y="273" width="5.45" height="64.2" fill="url(#hb)"/>
<rect x="560.55" y="261.9" width="5.45" height="75.3" fill="url(#hg)"/>
<rect x="566" y="259.2" width="5.45" height="78" fill="url(#ho)"/>
<rect x="571.45" y="259.9" width="5.45" height="77.3" fill="url(#hb)"/>
<rect x="583.4" y="264.8" width="5.45" height="72.4" fill="url(#hg)"/>
<rect x="588.85" y="256" width="5.45" height="81.2" fill="url(#ho)"/>
<rect x="594.3" y="263.6" width="5.45" height="73.6" fill="url(#hb)"/>
<rect x="606.25" y="295.8" width="5.45" height="41.4" fill="url(#hg)"/>
<rect x="611.7" y="281.8" width="5.45" height="55.4" fill="url(#ho)"/>
<rect x="617.15" y="294.3" width="5.45" height="42.9" fill="url(#hb)"/>
<rect x="629.1" y="329.7" width="5.45" height="7.5" fill="url(#hg)"/>
<rect x="634.55" y="325.3" width="5.45" height="11.9" fill="url(#ho)"/>
<rect x="640" y="329" width="5.45" height="8.2" fill="url(#hb)"/>
<line x1="483.1" y1="225.5" x2="655.7" y2="225.5" stroke="#225f9f" stroke-width="0.8" stroke-dasharray="0.9 1.5"/>
<polyline points="500.2,221.6 523,218.6 546,216.1 568.9,214.6 591.7,213.1 614.5,211.9 637.3,200.8" fill="none" stroke="#a0a0a0" stroke-width="1.2"/>
<polyline points="500.2,221.1 523,218.1 546,215.7 568.9,214.2 591.7,212.7 614.5,211.5 637.3,200.5" fill="none" stroke="#4a8fd0" stroke-width="1.2"/>
<polyline points="500.2,225.8 523,218.1 546,215.7 568.9,214.2 591.7,212.7 614.5,211.5 637.3,210.1" fill="none" stroke="#ea8a2a" stroke-width="1.2"/>
<circle cx="500.2" cy="221.1" r="1.85" fill="#fff" stroke="#4a8fd0" stroke-width="0.85"/>
<circle cx="637.3" cy="200.5" r="1.85" fill="#fff" stroke="#4a8fd0" stroke-width="0.85"/>
<circle cx="500.2" cy="225.8" r="1.85" fill="#fff" stroke="#ea8a2a" stroke-width="0.85"/>
<circle cx="523" cy="218.1" r="1.85" fill="#fff" stroke="#ea8a2a" stroke-width="0.85"/>
<circle cx="546" cy="215.7" r="1.85" fill="#fff" stroke="#ea8a2a" stroke-width="0.85"/>
<circle cx="568.9" cy="214.2" r="1.85" fill="#fff" stroke="#ea8a2a" stroke-width="0.85"/>
<circle cx="591.7" cy="212.7" r="1.85" fill="#fff" stroke="#ea8a2a" stroke-width="0.85"/>
<circle cx="614.5" cy="211.5" r="1.85" fill="#fff" stroke="#ea8a2a" stroke-width="0.85"/>
<circle cx="637.3" cy="210.1" r="1.85" fill="#fff" stroke="#ea8a2a" stroke-width="0.85"/>
<path d="M624.6,211.8 C628,216 634,219.8 641,220.3 L649.5,220.3" fill="none" stroke="#225f9f" stroke-width="1.0"/>
<path d="M653.2,220.3 L648.6,218.3 L649.6,220.3 L648.6,222.3 Z" fill="#225f9f"/>
<line x1="481.55" y1="196.2" x2="655.7" y2="196.2" stroke="#1a1a1a" stroke-width="1.1" />
<line x1="482.1" y1="196.2" x2="482.1" y2="337.2" stroke="#1a1a1a" stroke-width="1.1" />
<line x1="481.55" y1="337.2" x2="655.7" y2="337.2" stroke="#1a1a1a" stroke-width="1.1" />
<line x1="655.7" y1="195.65" x2="655.7" y2="337.75" stroke="#225f9f" stroke-width="1.1" />
<line x1="500.2" y1="337.2" x2="500.2" y2="339.4" stroke="#1a1a1a" stroke-width="0.8" />
<text transform="translate(500.2,348.6) scale(1,1.17)" font-size="7.5" text-anchor="middle" fill="#1a1a1a" font-family='"Liberation Sans", sans-serif' >−0.2</text>
<line x1="523.05" y1="337.2" x2="523.05" y2="339.4" stroke="#1a1a1a" stroke-width="0.8" />
<text transform="translate(523.05,348.6) scale(1,1.17)" font-size="7.5" text-anchor="middle" fill="#1a1a1a" font-family='"Liberation Sans", sans-serif' >−0.1</text>
<line x1="545.9" y1="337.2" x2="545.9" y2="339.4" stroke="#1a1a1a" stroke-width="0.8" />
<text transform="translate(545.9,348.6) scale(1,1.17)" font-size="7.5" text-anchor="middle" fill="#1a1a1a" font-family='"Liberation Sans", sans-serif' >0.0</text>
<line x1="568.75" y1="337.2" x2="568.75" y2="339.4" stroke="#1a1a1a" stroke-width="0.8" />
<text transform="translate(568.75,348.6) scale(1,1.17)" font-size="7.5" text-anchor="middle" fill="#1a1a1a" font-family='"Liberation Sans", sans-serif' >0.1</text>
<line x1="591.6" y1="337.2" x2="591.6" y2="339.4" stroke="#1a1a1a" stroke-width="0.8" />
<text transform="translate(591.6,348.6) scale(1,1.17)" font-size="7.5" text-anchor="middle" fill="#1a1a1a" font-family='"Liberation Sans", sans-serif' >0.2</text>
<line x1="614.45" y1="337.2" x2="614.45" y2="339.4" stroke="#1a1a1a" stroke-width="0.8" />
<text transform="translate(614.45,348.6) scale(1,1.17)" font-size="7.5" text-anchor="middle" fill="#1a1a1a" font-family='"Liberation Sans", sans-serif' >0.3</text>
<line x1="637.3" y1="337.2" x2="637.3" y2="339.4" stroke="#1a1a1a" stroke-width="0.8" />
<text transform="translate(637.3,348.6) scale(1,1.17)" font-size="7.5" text-anchor="middle" fill="#1a1a1a" font-family='"Liberation Sans", sans-serif' >0.4</text>
<line x1="482.1" y1="196.2" x2="479.5" y2="196.2" stroke="#1a1a1a" stroke-width="1.1" />
<text transform="translate(479,198.7) scale(1,1.17)" font-size="7.9" text-anchor="end" fill="#1a1a1a" font-family='"Liberation Sans", sans-serif' >0.20</text>
<line x1="482.1" y1="231.45" x2="479.5" y2="231.45" stroke="#1a1a1a" stroke-width="1.1" />
<text transform="translate(479,233.95) scale(1,1.17)" font-size="7.9" text-anchor="end" fill="#1a1a1a" font-family='"Liberation Sans", sans-serif' >0.15</text>
<line x1="482.1" y1="266.7" x2="479.5" y2="266.7" stroke="#1a1a1a" stroke-width="1.1" />
<text transform="translate(479,269.2) scale(1,1.17)" font-size="7.9" text-anchor="end" fill="#1a1a1a" font-family='"Liberation Sans", sans-serif' >0.10</text>
<line x1="482.1" y1="301.95" x2="479.5" y2="301.95" stroke="#1a1a1a" stroke-width="1.1" />
<text transform="translate(479,304.45) scale(1,1.17)" font-size="7.9" text-anchor="end" fill="#1a1a1a" font-family='"Liberation Sans", sans-serif' >0.05</text>
<line x1="482.1" y1="337.2" x2="479.5" y2="337.2" stroke="#1a1a1a" stroke-width="1.1" />
<text transform="translate(479,339.7) scale(1,1.17)" font-size="7.9" text-anchor="end" fill="#1a1a1a" font-family='"Liberation Sans", sans-serif' >0.00</text>
<line x1="482.1" y1="213.82" x2="480.6" y2="213.82" stroke="#1a1a1a" stroke-width="0.9" />
<line x1="482.1" y1="249.07" x2="480.6" y2="249.07" stroke="#1a1a1a" stroke-width="0.9" />
<line x1="482.1" y1="284.32" x2="480.6" y2="284.32" stroke="#1a1a1a" stroke-width="0.9" />
<line x1="482.1" y1="319.57" x2="480.6" y2="319.57" stroke="#1a1a1a" stroke-width="0.9" />
<line x1="655.7" y1="337.2" x2="657.9" y2="337.2" stroke="#225f9f" stroke-width="0.8" />
<text transform="translate(659.2,340.1) scale(1,1.17)" font-size="7.5" text-anchor="start" fill="#225f9f" font-family='"Liberation Sans", sans-serif' >0</text>
<line x1="655.7" y1="309" x2="657.9" y2="309" stroke="#225f9f" stroke-width="0.8" />
<text transform="translate(659.2,311.9) scale(1,1.17)" font-size="7.5" text-anchor="start" fill="#225f9f" font-family='"Liberation Sans", sans-serif' >20</text>
<line x1="655.7" y1="280.8" x2="657.9" y2="280.8" stroke="#225f9f" stroke-width="0.8" />
<text transform="translate(659.2,283.7) scale(1,1.17)" font-size="7.5" text-anchor="start" fill="#225f9f" font-family='"Liberation Sans", sans-serif' >40</text>
<line x1="655.7" y1="252.6" x2="657.9" y2="252.6" stroke="#225f9f" stroke-width="0.8" />
<text transform="translate(659.2,255.5) scale(1,1.17)" font-size="7.5" text-anchor="start" fill="#225f9f" font-family='"Liberation Sans", sans-serif' >60</text>
<line x1="655.7" y1="224.4" x2="657.9" y2="224.4" stroke="#225f9f" stroke-width="0.8" />
<text transform="translate(659.2,227.3) scale(1,1.17)" font-size="7.5" text-anchor="start" fill="#225f9f" font-family='"Liberation Sans", sans-serif' >80</text>
<line x1="655.7" y1="196.2" x2="657.9" y2="196.2" stroke="#225f9f" stroke-width="0.8" />
<text transform="translate(659.2,199.1) scale(1,1.17)" font-size="7.5" text-anchor="start" fill="#225f9f" font-family='"Liberation Sans", sans-serif' >100</text>
<line x1="655.7" y1="323.1" x2="654.4" y2="323.1" stroke="#225f9f" stroke-width="0.8" />
<line x1="655.7" y1="294.9" x2="654.4" y2="294.9" stroke="#225f9f" stroke-width="0.8" />
<line x1="655.7" y1="266.7" x2="654.4" y2="266.7" stroke="#225f9f" stroke-width="0.8" />
<line x1="655.7" y1="238.5" x2="654.4" y2="238.5" stroke="#225f9f" stroke-width="0.8" />
<line x1="655.7" y1="210.3" x2="654.4" y2="210.3" stroke="#225f9f" stroke-width="0.8" />
<text transform="translate(455.3,275.5) rotate(-90)" font-size="11" text-anchor="middle" fill="#1a1a1a" font-family='"Liberation Sans", sans-serif'>j<tspan font-size="5.6" font-style="italic" dy="2.2">ring</tspan><tspan dy="-2.2"> (mA)</tspan></text>
<text transform="translate(681,271.8) rotate(-90)" font-size="10.4" text-anchor="middle" fill="#225f9f" font-family='"Liberation Sans", sans-serif'>H<tspan font-size="6.8" dy="2">2</tspan><tspan dy="-2">O</tspan><tspan font-size="6.8" dy="2">2</tspan><tspan dy="-2"> selectivity (%)</tspan></text>
<text x="568.05" y="363" font-size="10.5" text-anchor="middle" fill="#1a1a1a" font-family='"Liberation Sans", sans-serif'  textLength="97.7" lengthAdjust="spacingAndGlyphs">Potential (V <tspan font-style="italic">vs.</tspan> RHE)</text>
<text transform="translate(580.6,234) scale(1,1.1)" font-size="7.2" text-anchor="start" fill="#1a1a1a" font-family='"Liberation Sans", sans-serif'  textLength="49.4" lengthAdjust="spacingAndGlyphs">0.9 <tspan font-style="italic">wt.</tspan>% NaCl</text>
<text transform="translate(580.6,243.8) scale(1,1.1)" font-size="7.2" text-anchor="start" fill="#1a1a1a" font-family='"Liberation Sans", sans-serif'  textLength="49.4" lengthAdjust="spacingAndGlyphs">3.6 <tspan font-style="italic">wt.</tspan>% NaCl</text>
<text transform="translate(580.6,252.6) scale(1,1.1)" font-size="7.2" text-anchor="start" fill="#1a1a1a" font-family='"Liberation Sans", sans-serif'  textLength="47.6" lengthAdjust="spacingAndGlyphs">0.1 M Na<tspan font-size="5" dy="2">2</tspan><tspan dy="-2">SO</tspan><tspan font-size="5" dy="2">4</tspan></text>
<rect x="632" y="227.4" width="17.2" height="8.3" fill="url(#hg)"/>
<rect x="632" y="237.0" width="17.2" height="7.8" fill="url(#ho)"/>
<rect x="632" y="246.3" width="17.2" height="7.8" fill="url(#hb)"/>
</svg>
</body></html>
